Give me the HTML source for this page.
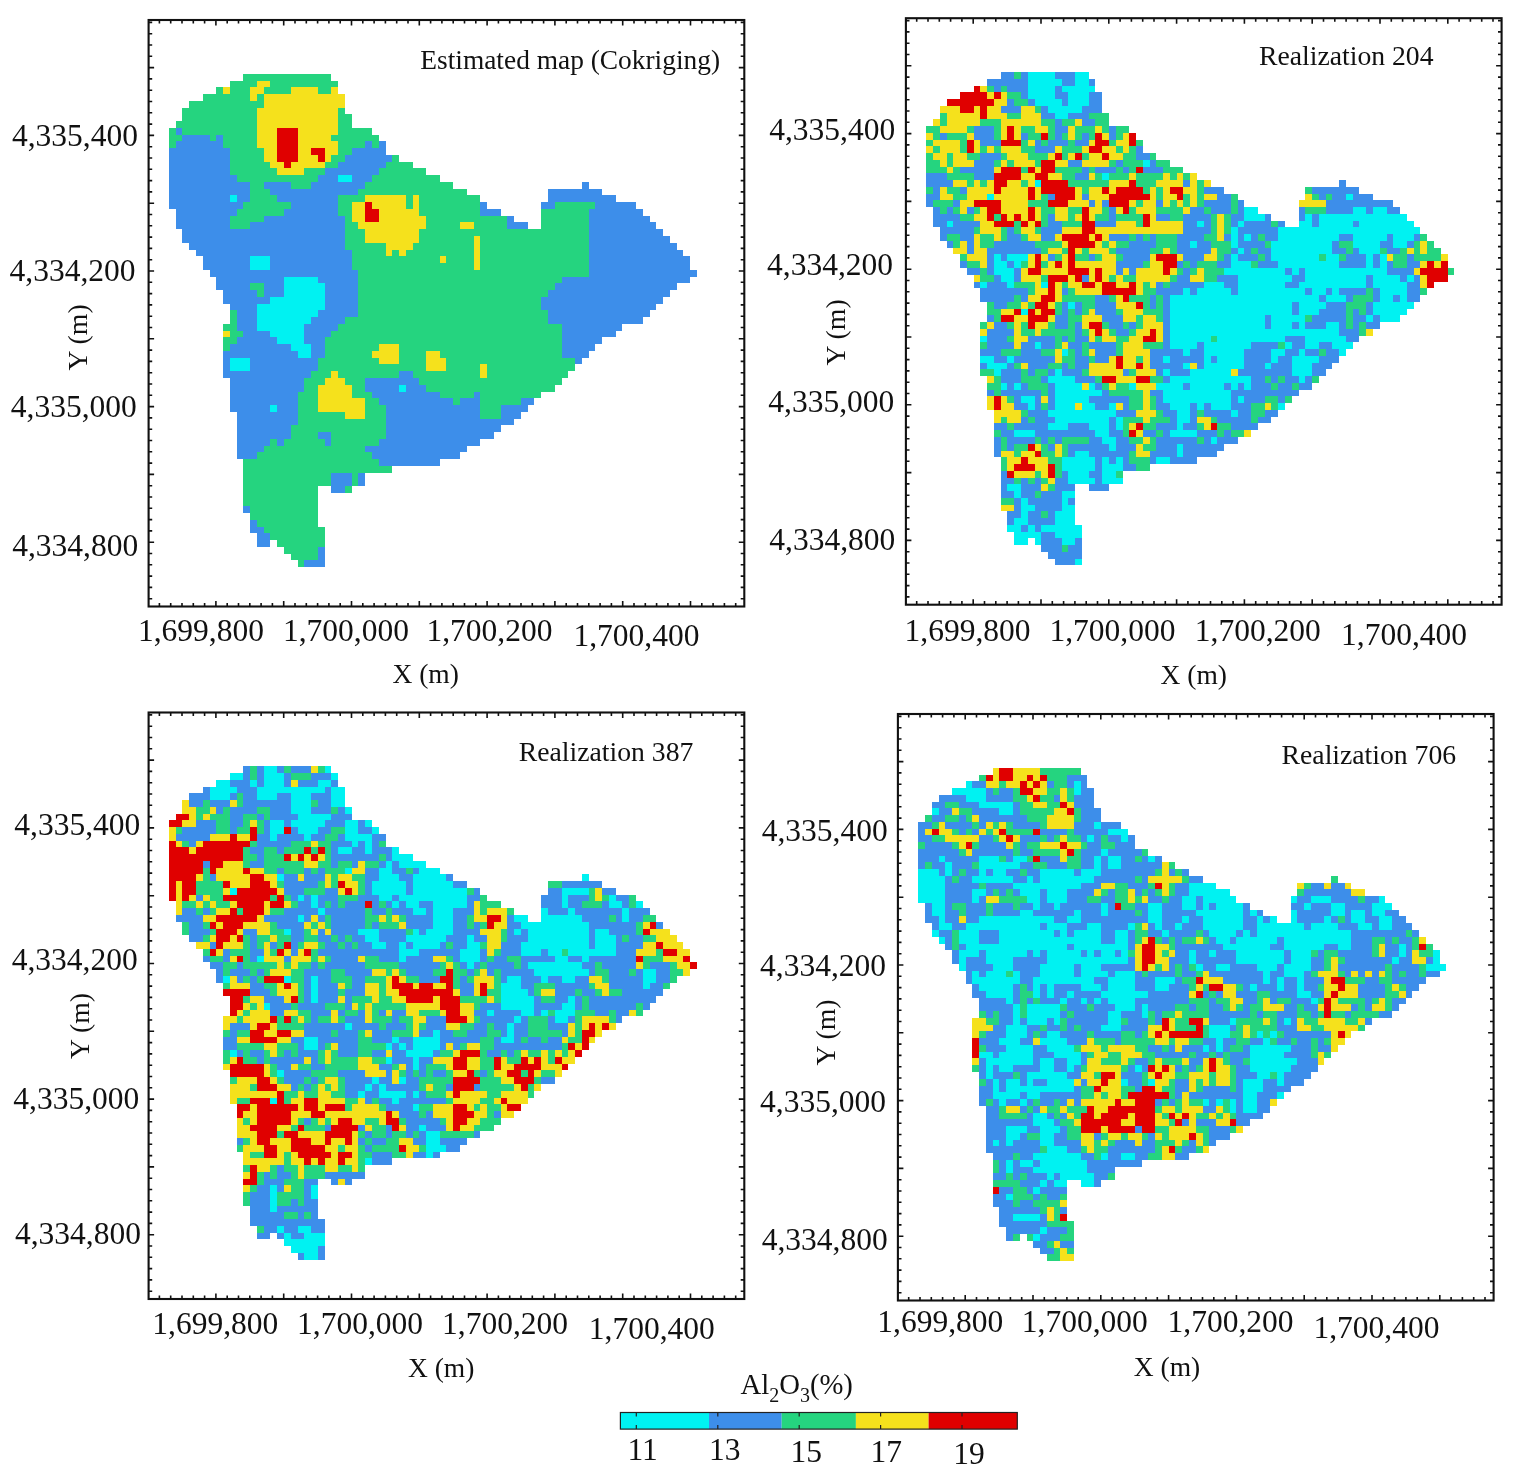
<!DOCTYPE html>
<html><head><meta charset="utf-8"><title>Al2O3 maps</title>
<style>html,body{margin:0;padding:0;background:#fff;}svg{display:block}</style></head>
<body><svg xmlns="http://www.w3.org/2000/svg" width="1513" height="1476" viewBox="0 0 1513 1476">
<rect width="1513" height="1476" fill="#fff"/>
<path shape-rendering="crispEdges" fill="#00f2f2" d="M338 175h14v7h-14zM230 195h7v7h-7zM250 256h20v7h-20zM250 263h20v7h-20zM284 277h34v6h-34zM284 283h41v7h-41zM284 290h41v7h-41zM270 297h55v7h-55zM257 304h68v6h-68zM257 310h61v7h-61zM257 317h54v7h-54zM257 324h47v7h-47zM270 331h34v6h-34zM277 337h27v7h-27zM291 344h20v7h-20zM298 351h13v7h-13zM230 358h20v6h-20zM230 364h20v7h-20zM399 385h7v7h-7zM270 405h7v7h-7z"/>
<path shape-rendering="crispEdges" fill="#3d8eea" d="M176 128h6v7h-6zM182 135h28v6h-28zM216 135h7v6h-7zM176 141h47v7h-47zM365 141h7v7h-7zM379 141h7v7h-7zM169 148h61v7h-61zM352 148h34v7h-34zM169 155h61v7h-61zM345 155h47v7h-47zM169 162h61v6h-61zM338 162h48v6h-48zM169 168h61v7h-61zM325 168h54v7h-54zM169 175h68v7h-68zM318 175h20v7h-20zM352 175h20v7h-20zM169 182h81v7h-81zM264 182h27v7h-27zM311 182h54v7h-54zM582 182h7v7h-7zM169 189h81v6h-81zM270 189h88v6h-88zM548 189h54v6h-54zM169 195h61v7h-61zM237 195h13v7h-13zM277 195h61v7h-61zM548 195h68v7h-68zM169 202h74v7h-74zM291 202h47v7h-47zM480 202h7v7h-7zM541 202h14v7h-14zM595 202h41v7h-41zM176 209h61v7h-61zM284 209h54v7h-54zM480 209h21v7h-21zM589 209h54v7h-54zM176 216h54v6h-54zM264 216h81v6h-81zM507 216h7v6h-7zM589 216h61v6h-61zM176 222h54v7h-54zM250 222h95v7h-95zM507 222h21v7h-21zM589 222h67v7h-67zM182 229h163v7h-163zM589 229h74v7h-74zM182 236h163v7h-163zM589 236h81v7h-81zM189 243h156v7h-156zM589 243h88v7h-88zM196 250h156v6h-156zM589 250h94v6h-94zM203 256h47v7h-47zM270 256h82v7h-82zM589 256h101v7h-101zM203 263h47v7h-47zM270 263h82v7h-82zM589 263h101v7h-101zM210 270h148v7h-148zM589 270h108v7h-108zM216 277h68v6h-68zM318 277h40v6h-40zM562 277h128v6h-128zM216 283h34v7h-34zM264 283h20v7h-20zM325 283h33v7h-33zM555 283h122v7h-122zM223 290h34v7h-34zM264 290h20v7h-20zM325 290h33v7h-33zM548 290h122v7h-122zM223 297h47v7h-47zM325 297h33v7h-33zM541 297h122v7h-122zM230 304h27v6h-27zM325 304h33v6h-33zM541 304h115v6h-115zM237 310h20v7h-20zM318 310h40v7h-40zM548 310h102v7h-102zM237 317h20v7h-20zM311 317h34v7h-34zM548 317h95v7h-95zM237 324h20v7h-20zM304 324h34v7h-34zM562 324h60v7h-60zM243 331h27v6h-27zM304 331h27v6h-27zM562 331h54v6h-54zM237 337h40v7h-40zM304 337h21v7h-21zM562 337h40v7h-40zM230 344h61v7h-61zM311 344h14v7h-14zM562 344h33v7h-33zM223 351h75v7h-75zM311 351h14v7h-14zM562 351h27v7h-27zM223 358h7v6h-7zM250 358h68v6h-68zM575 358h7v6h-7zM223 364h7v7h-7zM250 364h68v7h-68zM223 371h88v7h-88zM399 371h14v7h-14zM230 378h74v7h-74zM365 378h54v7h-54zM230 385h74v7h-74zM365 385h34v7h-34zM406 385h20v7h-20zM230 392h68v6h-68zM372 392h68v6h-68zM474 392h6v6h-6zM230 398h68v7h-68zM379 398h74v7h-74zM460 398h20v7h-20zM521 398h13v7h-13zM230 405h40v7h-40zM277 405h21v7h-21zM386 405h94v7h-94zM501 405h27v7h-27zM237 412h61v7h-61zM386 412h94v7h-94zM501 412h20v7h-20zM237 419h61v6h-61zM386 419h128v6h-128zM237 425h54v7h-54zM386 425h115v7h-115zM237 432h54v7h-54zM318 432h13v7h-13zM386 432h108v7h-108zM237 439h33v7h-33zM277 439h7v7h-7zM325 439h6v7h-6zM379 439h101v7h-101zM237 446h27v6h-27zM365 446h102v6h-102zM237 452h20v7h-20zM372 452h88v7h-88zM379 459h61v7h-61zM331 473h21v6h-21zM358 473h7v6h-7zM331 479h21v7h-21zM358 479h7v7h-7zM331 486h14v7h-14zM243 506h7v7h-7zM250 520h7v7h-7zM250 527h14v6h-14zM257 533h13v7h-13zM257 540h13v7h-13zM318 547h7v7h-7zM318 554h7v6h-7zM304 560h21v7h-21z"/>
<path shape-rendering="crispEdges" fill="#25d47f" d="M243 74h88v7h-88zM230 81h27v6h-27zM270 81h68v6h-68zM216 87h7v7h-7zM230 87h20v7h-20zM264 87h27v7h-27zM318 87h13v7h-13zM203 94h47v7h-47zM257 94h7v7h-7zM189 101h75v7h-75zM182 108h75v6h-75zM338 108h7v6h-7zM182 114h75v7h-75zM338 114h14v7h-14zM176 121h81v7h-81zM338 121h14v7h-14zM169 128h7v7h-7zM182 128h75v7h-75zM338 128h34v7h-34zM169 135h13v6h-13zM210 135h6v6h-6zM223 135h34v6h-34zM331 135h48v6h-48zM169 141h7v7h-7zM223 141h34v7h-34zM338 141h27v7h-27zM372 141h7v7h-7zM230 148h34v7h-34zM338 148h14v7h-14zM230 155h34v7h-34zM331 155h14v7h-14zM392 155h7v7h-7zM230 162h40v6h-40zM325 162h13v6h-13zM386 162h27v6h-27zM230 168h47v7h-47zM304 168h21v7h-21zM379 168h47v7h-47zM237 175h81v7h-81zM372 175h68v7h-68zM250 182h14v7h-14zM291 182h20v7h-20zM365 182h88v7h-88zM250 189h20v6h-20zM358 189h109v6h-109zM250 195h27v7h-27zM338 195h27v7h-27zM406 195h7v7h-7zM419 195h61v7h-61zM243 202h48v7h-48zM338 202h14v7h-14zM406 202h7v7h-7zM419 202h61v7h-61zM555 202h40v7h-40zM237 209h47v7h-47zM338 209h14v7h-14zM419 209h61v7h-61zM541 209h48v7h-48zM230 216h34v6h-34zM345 216h7v6h-7zM426 216h81v6h-81zM541 216h48v6h-48zM230 222h20v7h-20zM345 222h13v7h-13zM426 222h34v7h-34zM474 222h33v7h-33zM541 222h48v7h-48zM345 229h20v7h-20zM419 229h170v7h-170zM345 236h20v7h-20zM419 236h55v7h-55zM480 236h109v7h-109zM345 243h41v7h-41zM413 243h61v7h-61zM480 243h109v7h-109zM352 250h34v6h-34zM392 250h7v6h-7zM406 250h68v6h-68zM480 250h109v6h-109zM352 256h88v7h-88zM446 256h28v7h-28zM480 256h109v7h-109zM352 263h122v7h-122zM480 263h109v7h-109zM358 270h231v7h-231zM358 277h204v6h-204zM250 283h14v7h-14zM358 283h197v7h-197zM257 290h7v7h-7zM358 290h190v7h-190zM358 297h183v7h-183zM358 304h183v6h-183zM230 310h7v7h-7zM358 310h190v7h-190zM230 317h7v7h-7zM345 317h203v7h-203zM223 324h14v7h-14zM338 324h224v7h-224zM230 331h13v6h-13zM331 331h231v6h-231zM223 337h14v7h-14zM325 337h237v7h-237zM223 344h7v7h-7zM325 344h54v7h-54zM399 344h163v7h-163zM325 351h47v7h-47zM399 351h27v7h-27zM440 351h122v7h-122zM318 358h61v6h-61zM399 358h27v6h-27zM446 358h129v6h-129zM318 364h108v7h-108zM446 364h34v7h-34zM487 364h88v7h-88zM311 371h20v7h-20zM338 371h61v7h-61zM413 371h67v7h-67zM487 371h81v7h-81zM304 378h21v7h-21zM345 378h20v7h-20zM419 378h143v7h-143zM304 385h14v7h-14zM352 385h13v7h-13zM426 385h129v7h-129zM298 392h20v6h-20zM352 392h20v6h-20zM440 392h34v6h-34zM480 392h61v6h-61zM298 398h20v7h-20zM365 398h14v7h-14zM453 398h7v7h-7zM480 398h41v7h-41zM298 405h20v7h-20zM365 405h21v7h-21zM480 405h21v7h-21zM298 412h47v7h-47zM365 412h21v7h-21zM480 412h21v7h-21zM298 419h88v6h-88zM291 425h95v7h-95zM291 432h27v7h-27zM331 432h55v7h-55zM270 439h7v7h-7zM284 439h41v7h-41zM331 439h48v7h-48zM264 446h101v6h-101zM257 452h115v7h-115zM243 459h136v7h-136zM243 466h149v7h-149zM243 473h88v6h-88zM352 473h6v6h-6zM243 479h88v7h-88zM352 479h6v7h-6zM243 486h75v7h-75zM345 486h7v7h-7zM243 493h75v7h-75zM243 500h75v6h-75zM250 506h68v7h-68zM250 513h68v7h-68zM257 520h61v7h-61zM264 527h61v6h-61zM270 533h55v7h-55zM277 540h48v7h-48zM284 547h34v7h-34zM291 554h27v6h-27zM298 560h6v7h-6z"/>
<path shape-rendering="crispEdges" fill="#f5e11c" d="M257 81h13v6h-13zM223 87h7v7h-7zM250 87h14v7h-14zM291 87h27v7h-27zM331 87h7v7h-7zM250 94h7v7h-7zM264 94h81v7h-81zM264 101h81v7h-81zM257 108h81v6h-81zM257 114h81v7h-81zM257 121h81v7h-81zM257 128h20v7h-20zM298 128h40v7h-40zM257 135h20v6h-20zM298 135h33v6h-33zM257 141h20v7h-20zM298 141h40v7h-40zM264 148h13v7h-13zM298 148h13v7h-13zM325 148h13v7h-13zM264 155h13v7h-13zM298 155h20v7h-20zM325 155h6v7h-6zM270 162h14v6h-14zM291 162h34v6h-34zM277 168h27v7h-27zM365 195h41v7h-41zM413 195h6v7h-6zM352 202h13v7h-13zM372 202h34v7h-34zM413 202h6v7h-6zM352 209h13v7h-13zM379 209h40v7h-40zM352 216h13v6h-13zM379 216h47v6h-47zM358 222h68v7h-68zM460 222h14v7h-14zM365 229h54v7h-54zM365 236h54v7h-54zM474 236h6v7h-6zM386 243h27v7h-27zM474 243h6v7h-6zM386 250h6v6h-6zM399 250h7v6h-7zM474 250h6v6h-6zM440 256h6v7h-6zM474 256h6v7h-6zM474 263h6v7h-6zM223 331h7v6h-7zM379 344h20v7h-20zM372 351h27v7h-27zM426 351h14v7h-14zM379 358h20v6h-20zM426 358h20v6h-20zM426 364h20v7h-20zM480 364h7v7h-7zM331 371h7v7h-7zM480 371h7v7h-7zM325 378h20v7h-20zM318 385h34v7h-34zM318 392h34v6h-34zM318 398h47v7h-47zM318 405h47v7h-47zM345 412h20v7h-20z"/>
<path shape-rendering="crispEdges" fill="#e00000" d="M277 128h21v7h-21zM277 135h21v6h-21zM277 141h21v7h-21zM277 148h21v7h-21zM311 148h14v7h-14zM277 155h21v7h-21zM318 155h7v7h-7zM284 162h7v6h-7zM365 202h7v7h-7zM365 209h14v7h-14zM365 216h14v6h-14z"/>
<rect x="148.60" y="20.00" width="595.70" height="586.50" fill="none" stroke="#111" stroke-width="2.1"/>
<path d="M159.40 20.00v3.6M159.40 606.50v-3.6M170.70 20.00v3.6M170.70 606.50v-3.6M182.00 20.00v3.6M182.00 606.50v-3.6M193.30 20.00v3.6M193.30 606.50v-3.6M204.60 20.00v3.6M204.60 606.50v-3.6M215.90 20.00v5.5M215.90 606.50v-5.5M227.20 20.00v3.6M227.20 606.50v-3.6M238.50 20.00v3.6M238.50 606.50v-3.6M249.80 20.00v3.6M249.80 606.50v-3.6M261.10 20.00v3.6M261.10 606.50v-3.6M272.40 20.00v3.6M272.40 606.50v-3.6M283.70 20.00v5.5M283.70 606.50v-5.5M295.00 20.00v3.6M295.00 606.50v-3.6M306.30 20.00v3.6M306.30 606.50v-3.6M317.60 20.00v3.6M317.60 606.50v-3.6M328.90 20.00v3.6M328.90 606.50v-3.6M340.20 20.00v3.6M340.20 606.50v-3.6M351.50 20.00v5.5M351.50 606.50v-5.5M362.80 20.00v3.6M362.80 606.50v-3.6M374.10 20.00v3.6M374.10 606.50v-3.6M385.40 20.00v3.6M385.40 606.50v-3.6M396.70 20.00v3.6M396.70 606.50v-3.6M408.00 20.00v3.6M408.00 606.50v-3.6M419.30 20.00v5.5M419.30 606.50v-5.5M430.60 20.00v3.6M430.60 606.50v-3.6M441.90 20.00v3.6M441.90 606.50v-3.6M453.20 20.00v3.6M453.20 606.50v-3.6M464.50 20.00v3.6M464.50 606.50v-3.6M475.80 20.00v3.6M475.80 606.50v-3.6M487.10 20.00v5.5M487.10 606.50v-5.5M498.40 20.00v3.6M498.40 606.50v-3.6M509.70 20.00v3.6M509.70 606.50v-3.6M521.00 20.00v3.6M521.00 606.50v-3.6M532.30 20.00v3.6M532.30 606.50v-3.6M543.60 20.00v3.6M543.60 606.50v-3.6M554.90 20.00v5.5M554.90 606.50v-5.5M566.20 20.00v3.6M566.20 606.50v-3.6M577.50 20.00v3.6M577.50 606.50v-3.6M588.80 20.00v3.6M588.80 606.50v-3.6M600.10 20.00v3.6M600.10 606.50v-3.6M611.40 20.00v3.6M611.40 606.50v-3.6M622.70 20.00v5.5M622.70 606.50v-5.5M634.00 20.00v3.6M634.00 606.50v-3.6M645.30 20.00v3.6M645.30 606.50v-3.6M656.60 20.00v3.6M656.60 606.50v-3.6M667.90 20.00v3.6M667.90 606.50v-3.6M679.20 20.00v3.6M679.20 606.50v-3.6M690.50 20.00v5.5M690.50 606.50v-5.5M701.80 20.00v3.6M701.80 606.50v-3.6M713.10 20.00v3.6M713.10 606.50v-3.6M724.40 20.00v3.6M724.40 606.50v-3.6M735.70 20.00v3.6M735.70 606.50v-3.6M148.60 22.40h3.6M744.30 22.40h-3.6M148.60 33.70h3.6M744.30 33.70h-3.6M148.60 45.00h3.6M744.30 45.00h-3.6M148.60 56.30h3.6M744.30 56.30h-3.6M148.60 67.60h5.5M744.30 67.60h-5.5M148.60 78.90h3.6M744.30 78.90h-3.6M148.60 90.20h3.6M744.30 90.20h-3.6M148.60 101.50h3.6M744.30 101.50h-3.6M148.60 112.80h3.6M744.30 112.80h-3.6M148.60 124.10h3.6M744.30 124.10h-3.6M148.60 135.40h5.5M744.30 135.40h-5.5M148.60 146.70h3.6M744.30 146.70h-3.6M148.60 158.00h3.6M744.30 158.00h-3.6M148.60 169.30h3.6M744.30 169.30h-3.6M148.60 180.60h3.6M744.30 180.60h-3.6M148.60 191.90h3.6M744.30 191.90h-3.6M148.60 203.20h5.5M744.30 203.20h-5.5M148.60 214.50h3.6M744.30 214.50h-3.6M148.60 225.80h3.6M744.30 225.80h-3.6M148.60 237.10h3.6M744.30 237.10h-3.6M148.60 248.40h3.6M744.30 248.40h-3.6M148.60 259.70h3.6M744.30 259.70h-3.6M148.60 271.00h5.5M744.30 271.00h-5.5M148.60 282.30h3.6M744.30 282.30h-3.6M148.60 293.60h3.6M744.30 293.60h-3.6M148.60 304.90h3.6M744.30 304.90h-3.6M148.60 316.20h3.6M744.30 316.20h-3.6M148.60 327.50h3.6M744.30 327.50h-3.6M148.60 338.80h5.5M744.30 338.80h-5.5M148.60 350.10h3.6M744.30 350.10h-3.6M148.60 361.40h3.6M744.30 361.40h-3.6M148.60 372.70h3.6M744.30 372.70h-3.6M148.60 384.00h3.6M744.30 384.00h-3.6M148.60 395.30h3.6M744.30 395.30h-3.6M148.60 406.60h5.5M744.30 406.60h-5.5M148.60 417.90h3.6M744.30 417.90h-3.6M148.60 429.20h3.6M744.30 429.20h-3.6M148.60 440.50h3.6M744.30 440.50h-3.6M148.60 451.80h3.6M744.30 451.80h-3.6M148.60 463.10h3.6M744.30 463.10h-3.6M148.60 474.40h5.5M744.30 474.40h-5.5M148.60 485.70h3.6M744.30 485.70h-3.6M148.60 497.00h3.6M744.30 497.00h-3.6M148.60 508.30h3.6M744.30 508.30h-3.6M148.60 519.60h3.6M744.30 519.60h-3.6M148.60 530.90h3.6M744.30 530.90h-3.6M148.60 542.20h5.5M744.30 542.20h-5.5M148.60 553.50h3.6M744.30 553.50h-3.6M148.60 564.80h3.6M744.30 564.80h-3.6M148.60 576.10h3.6M744.30 576.10h-3.6M148.60 587.40h3.6M744.30 587.40h-3.6M148.60 598.70h3.6M744.30 598.70h-3.6" stroke="#111" stroke-width="1.6" fill="none"/>
<path shape-rendering="crispEdges" fill="#00f2f2" d="M1028 72h27v7h-27zM1075 72h14v7h-14zM1028 79h34v7h-34zM1075 79h14v7h-14zM1028 86h27v6h-27zM1062 86h33v6h-33zM1028 92h27v7h-27zM1068 92h21v7h-21zM1035 99h27v7h-27zM1068 99h21v7h-21zM1048 106h34v7h-34zM1055 113h13v6h-13zM1143 160h7v7h-7zM1102 173h7v7h-7zM1035 180h6v7h-6zM987 194h7v6h-7zM1346 194h7v6h-7zM1244 207h14v7h-14zM1353 207h13v7h-13zM1373 207h14v7h-14zM1244 214h21v7h-21zM1305 214h7v7h-7zM1319 214h88v7h-88zM947 221h6v6h-6zM1197 221h7v6h-7zM1238 221h6v6h-6zM1299 221h13v6h-13zM1319 221h34v6h-34zM1359 221h55v6h-55zM1231 227h7v7h-7zM1278 227h142v7h-142zM1231 234h7v7h-7zM1244 234h7v7h-7zM1278 234h61v7h-61zM1353 234h34v7h-34zM1393 234h21v7h-21zM1190 241h7v7h-7zM1231 241h7v7h-7zM1271 241h61v7h-61zM1353 241h27v7h-27zM1393 241h14v7h-14zM1238 248h6v6h-6zM1271 248h61v6h-61zM1359 248h21v6h-21zM994 254h7v7h-7zM1007 254h21v7h-21zM1231 254h7v7h-7zM1271 254h48v7h-48zM1326 254h13v7h-13zM1366 254h7v7h-7zM1380 254h7v7h-7zM994 261h13v7h-13zM1014 261h7v7h-7zM1231 261h20v7h-20zM1278 261h61v7h-61zM1366 261h7v7h-7zM1380 261h7v7h-7zM994 268h20v7h-20zM1224 268h61v7h-61zM1292 268h7v7h-7zM1305 268h82v7h-82zM1001 275h13v7h-13zM1238 275h54v7h-54zM1305 275h61v7h-61zM1373 275h27v7h-27zM1407 275h7v7h-7zM980 282h7v6h-7zM1007 282h7v6h-7zM1041 282h7v6h-7zM1204 282h20v6h-20zM1238 282h47v6h-47zM1299 282h67v6h-67zM1373 282h34v6h-34zM1183 288h7v7h-7zM1197 288h34v7h-34zM1238 288h67v7h-67zM1312 288h14v7h-14zM1332 288h7v7h-7zM1380 288h27v7h-27zM1170 295h149v7h-149zM1326 295h20v7h-20zM1380 295h13v7h-13zM1400 295h7v7h-7zM1068 302h7v7h-7zM1170 302h122v7h-122zM1299 302h27v7h-27zM1373 302h41v7h-41zM1021 309h7v6h-7zM1170 309h122v6h-122zM1299 309h20v6h-20zM1373 309h34v6h-34zM1170 315h95v7h-95zM1271 315h34v7h-34zM1366 315h7v7h-7zM1380 315h20v7h-20zM1170 322h95v7h-95zM1271 322h21v7h-21zM1299 322h6v7h-6zM1326 322h13v7h-13zM1170 329h169v7h-169zM980 336h7v6h-7zM1170 336h41v6h-41zM1217 336h68v6h-68zM1305 336h41v6h-41zM1035 342h6v7h-6zM1170 342h27v7h-27zM1204 342h47v7h-47zM1285 342h7v7h-7zM1305 342h14v7h-14zM1332 342h21v7h-21zM1062 349h6v7h-6zM1183 349h7v7h-7zM1204 349h40v7h-40zM1271 349h14v7h-14zM1299 349h6v7h-6zM1339 349h7v7h-7zM980 356h14v7h-14zM1007 356h7v7h-7zM1163 356h7v7h-7zM1204 356h7v7h-7zM1217 356h27v7h-27zM1271 356h7v7h-7zM1292 356h27v7h-27zM987 363h20v6h-20zM1183 363h7v6h-7zM1204 363h40v6h-40zM1265 363h6v6h-6zM1292 363h20v6h-20zM994 369h7v7h-7zM1055 369h7v7h-7zM1163 369h7v7h-7zM1190 369h41v7h-41zM1292 369h20v7h-20zM1048 376h27v7h-27zM1170 376h81v7h-81zM1299 376h6v7h-6zM1001 383h6v7h-6zM1014 383h7v7h-7zM1055 383h27v7h-27zM1089 383h6v7h-6zM1129 383h7v7h-7zM1156 383h27v7h-27zM1190 383h34v7h-34zM1231 383h7v7h-7zM1244 383h7v7h-7zM1055 390h47v6h-47zM1163 390h68v6h-68zM1021 396h14v7h-14zM1055 396h34v7h-34zM1163 396h68v7h-68zM1238 396h6v7h-6zM1028 403h7v7h-7zM1055 403h20v7h-20zM1082 403h13v7h-13zM1109 403h7v7h-7zM1170 403h20v7h-20zM1197 403h7v7h-7zM1211 403h20v7h-20zM1278 403h7v7h-7zM1048 410h68v7h-68zM1177 410h13v7h-13zM1231 410h7v7h-7zM1055 417h54v6h-54zM1116 417h7v6h-7zM1177 417h13v6h-13zM1048 423h20v7h-20zM1089 423h20v7h-20zM1116 423h7v7h-7zM1177 423h6v7h-6zM1014 430h21v7h-21zM1095 430h14v7h-14zM1170 430h27v7h-27zM1102 437h14v7h-14zM1211 437h6v7h-6zM1109 444h7v7h-7zM1177 444h6v7h-6zM1075 451h14v6h-14zM1177 451h6v6h-6zM1062 457h33v7h-33zM1102 457h7v7h-7zM1116 457h7v7h-7zM1156 457h14v7h-14zM1062 464h33v7h-33zM1102 464h21v7h-21zM1068 471h21v7h-21zM1102 471h14v7h-14zM1068 478h27v6h-27zM1102 478h21v6h-21zM1007 484h14v7h-14zM1014 491h7v7h-7zM1062 491h13v7h-13zM1021 498h7v7h-7zM1062 498h6v7h-6zM1021 505h14v6h-14zM1062 505h13v6h-13zM1021 511h7v7h-7zM1055 511h20v7h-20zM1014 518h14v7h-14zM1055 518h20v7h-20zM1007 525h14v7h-14zM1028 525h7v7h-7zM1041 525h41v7h-41zM1014 532h27v6h-27zM1055 532h27v6h-27zM1014 538h14v7h-14zM1035 538h6v7h-6zM1062 538h13v7h-13zM1075 559h7v6h-7z"/>
<path shape-rendering="crispEdges" fill="#3d8eea" d="M1001 72h13v7h-13zM1021 72h7v7h-7zM1055 72h20v7h-20zM987 79h41v7h-41zM1062 79h13v7h-13zM1089 79h6v7h-6zM994 86h7v6h-7zM1007 86h21v6h-21zM1055 86h7v6h-7zM1021 92h7v7h-7zM1055 92h13v7h-13zM1089 92h13v7h-13zM1007 99h7v7h-7zM1028 99h7v7h-7zM1062 99h6v7h-6zM1089 99h13v7h-13zM1001 106h20v7h-20zM1041 106h7v7h-7zM1082 106h20v7h-20zM1041 113h14v6h-14zM1068 113h21v6h-21zM1055 119h7v7h-7zM1082 119h13v7h-13zM974 126h20v7h-20zM1055 126h13v7h-13zM1109 126h7v7h-7zM940 133h7v7h-7zM974 133h20v7h-20zM1021 133h7v7h-7zM1055 133h7v7h-7zM1082 133h7v7h-7zM1109 133h7v7h-7zM980 140h21v6h-21zM1035 140h6v6h-6zM1048 140h20v6h-20zM1075 140h14v6h-14zM1035 146h20v7h-20zM1136 146h7v7h-7zM980 153h21v7h-21zM1136 153h14v7h-14zM974 160h20v7h-20zM1068 160h14v7h-14zM1116 160h7v7h-7zM1150 160h6v7h-6zM960 167h34v6h-34zM1082 167h7v6h-7zM1095 167h21v6h-21zM1123 167h6v6h-6zM1143 167h20v6h-20zM926 173h21v7h-21zM974 173h20v7h-20zM1075 173h14v7h-14zM926 180h27v7h-27zM1183 180h7v7h-7zM1339 180h7v7h-7zM933 187h7v7h-7zM960 187h7v7h-7zM1204 187h20v7h-20zM1312 187h47v7h-47zM926 194h14v6h-14zM1048 194h7v6h-7zM1082 194h7v6h-7zM1217 194h14v6h-14zM1319 194h7v6h-7zM1332 194h14v6h-14zM1353 194h20v6h-20zM926 200h7v7h-7zM953 200h7v7h-7zM1089 200h6v7h-6zM1102 200h7v7h-7zM1156 200h7v7h-7zM1204 200h27v7h-27zM1238 200h6v7h-6zM1326 200h67v7h-67zM933 207h7v7h-7zM947 207h6v7h-6zM967 207h7v7h-7zM1109 207h7v7h-7zM1190 207h14v7h-14zM1211 207h20v7h-20zM1238 207h6v7h-6zM1299 207h6v7h-6zM1326 207h27v7h-27zM1366 207h7v7h-7zM1387 207h13v7h-13zM933 214h27v7h-27zM1048 214h7v7h-7zM1109 214h7v7h-7zM1156 214h14v7h-14zM1183 214h28v7h-28zM1231 214h13v7h-13zM1265 214h6v7h-6zM1299 214h6v7h-6zM1312 214h7v7h-7zM933 221h14v6h-14zM953 221h27v6h-27zM1048 221h14v6h-14zM1095 221h21v6h-21zM1183 221h14v6h-14zM1204 221h7v6h-7zM1231 221h7v6h-7zM1244 221h27v6h-27zM1278 221h7v6h-7zM1312 221h7v6h-7zM1353 221h6v6h-6zM940 227h34v7h-34zM1007 227h7v7h-7zM1041 227h21v7h-21zM1183 227h28v7h-28zM1238 227h40v7h-40zM940 234h7v7h-7zM960 234h14v7h-14zM1007 234h14v7h-14zM1041 234h14v7h-14zM1109 234h20v7h-20zM1136 234h7v7h-7zM1150 234h6v7h-6zM1177 234h27v7h-27zM1224 234h7v7h-7zM1238 234h6v7h-6zM1251 234h7v7h-7zM1265 234h13v7h-13zM1339 234h14v7h-14zM1387 234h6v7h-6zM1414 234h6v7h-6zM947 241h6v7h-6zM967 241h7v7h-7zM994 241h41v7h-41zM1129 241h27v7h-27zM1177 241h13v7h-13zM1197 241h14v7h-14zM1238 241h27v7h-27zM1332 241h7v7h-7zM1380 241h13v7h-13zM1407 241h7v7h-7zM967 248h7v6h-7zM987 248h54v6h-54zM1116 248h34v6h-34zM1177 248h34v6h-34zM1231 248h7v6h-7zM1244 248h7v6h-7zM1258 248h13v6h-13zM1332 248h14v6h-14zM1353 248h6v6h-6zM1387 248h13v6h-13zM987 254h7v7h-7zM1001 254h6v7h-6zM1048 254h7v7h-7zM1089 254h6v7h-6zM1123 254h27v7h-27zM1183 254h21v7h-21zM1224 254h7v7h-7zM1238 254h20v7h-20zM1265 254h6v7h-6zM1346 254h20v7h-20zM1373 254h7v7h-7zM1407 254h7v7h-7zM960 261h7v7h-7zM987 261h7v7h-7zM1007 261h7v7h-7zM1116 261h27v7h-27zM1177 261h6v7h-6zM1190 261h7v7h-7zM1217 261h14v7h-14zM1258 261h20v7h-20zM1339 261h27v7h-27zM1373 261h7v7h-7zM1387 261h6v7h-6zM1407 261h13v7h-13zM967 268h13v7h-13zM987 268h7v7h-7zM1014 268h7v7h-7zM1116 268h7v7h-7zM1129 268h7v7h-7zM1183 268h7v7h-7zM1285 268h7v7h-7zM1299 268h6v7h-6zM1387 268h27v7h-27zM994 275h7v7h-7zM1014 275h7v7h-7zM1082 275h7v7h-7zM1177 275h13v7h-13zM1217 275h21v7h-21zM1292 275h13v7h-13zM1366 275h7v7h-7zM1400 275h7v7h-7zM1414 275h6v7h-6zM974 282h6v6h-6zM987 282h20v6h-20zM1156 282h7v6h-7zM1170 282h34v6h-34zM1224 282h14v6h-14zM1285 282h14v6h-14zM1366 282h7v6h-7zM1407 282h13v6h-13zM980 288h48v7h-48zM1062 288h6v7h-6zM1156 288h27v7h-27zM1190 288h7v7h-7zM1231 288h7v7h-7zM1305 288h7v7h-7zM1326 288h6v7h-6zM1339 288h27v7h-27zM1373 288h7v7h-7zM1407 288h13v7h-13zM980 295h34v7h-34zM1021 295h7v7h-7zM1095 295h14v7h-14zM1150 295h6v7h-6zM1163 295h7v7h-7zM1319 295h7v7h-7zM1346 295h7v7h-7zM1373 295h7v7h-7zM1393 295h7v7h-7zM1407 295h13v7h-13zM994 302h13v7h-13zM1062 302h6v7h-6zM1075 302h7v7h-7zM1095 302h21v7h-21zM1150 302h6v7h-6zM1163 302h7v7h-7zM1292 302h7v7h-7zM1326 302h20v7h-20zM1366 302h7v7h-7zM1062 309h6v6h-6zM1075 309h7v6h-7zM1095 309h21v6h-21zM1163 309h7v6h-7zM1292 309h7v6h-7zM1319 309h27v6h-27zM1353 309h6v6h-6zM1366 309h7v6h-7zM987 315h7v7h-7zM1055 315h13v7h-13zM1102 315h21v7h-21zM1163 315h7v7h-7zM1265 315h6v7h-6zM1312 315h34v7h-34zM1353 315h13v7h-13zM1373 315h7v7h-7zM994 322h13v7h-13zM1055 322h13v7h-13zM1075 322h7v7h-7zM1109 322h14v7h-14zM1129 322h7v7h-7zM1163 322h7v7h-7zM1265 322h6v7h-6zM1292 322h7v7h-7zM1305 322h21v7h-21zM1339 322h7v7h-7zM1353 322h6v7h-6zM1366 322h14v7h-14zM987 329h27v7h-27zM1075 329h7v7h-7zM1116 329h13v7h-13zM1163 329h7v7h-7zM1339 329h20v7h-20zM987 336h20v6h-20zM1028 336h27v6h-27zM1062 336h6v6h-6zM1075 336h14v6h-14zM1163 336h7v6h-7zM1285 336h20v6h-20zM1346 336h13v6h-13zM987 342h27v7h-27zM1021 342h14v7h-14zM1041 342h14v7h-14zM1068 342h14v7h-14zM1089 342h27v7h-27zM1163 342h7v7h-7zM1197 342h7v7h-7zM1251 342h27v7h-27zM1292 342h13v7h-13zM1319 342h13v7h-13zM980 349h21v7h-21zM1021 349h20v7h-20zM1075 349h7v7h-7zM1095 349h21v7h-21zM1150 349h33v7h-33zM1190 349h14v7h-14zM1244 349h27v7h-27zM1285 349h14v7h-14zM1305 349h14v7h-14zM1326 349h13v7h-13zM994 356h13v7h-13zM1014 356h41v7h-41zM1075 356h14v7h-14zM1095 356h14v7h-14zM1150 356h13v7h-13zM1170 356h34v7h-34zM1211 356h6v7h-6zM1244 356h27v7h-27zM1278 356h14v7h-14zM1319 356h20v7h-20zM980 363h7v6h-7zM1007 363h7v6h-7zM1028 363h20v6h-20zM1062 363h6v6h-6zM1075 363h14v6h-14zM1150 363h33v6h-33zM1197 363h7v6h-7zM1244 363h21v6h-21zM1271 363h21v6h-21zM1312 363h20v6h-20zM1001 369h20v7h-20zM1028 369h7v7h-7zM1048 369h7v7h-7zM1062 369h20v7h-20zM1123 369h6v7h-6zM1156 369h7v7h-7zM1170 369h20v7h-20zM1238 369h54v7h-54zM1312 369h14v7h-14zM1001 376h20v7h-20zM1041 376h7v7h-7zM1075 376h20v7h-20zM1163 376h7v7h-7zM1251 376h14v7h-14zM1271 376h7v7h-7zM1285 376h14v7h-14zM1305 376h7v7h-7zM1007 383h7v7h-7zM1021 383h7v7h-7zM1048 383h7v7h-7zM1095 383h7v7h-7zM1183 383h7v7h-7zM1224 383h7v7h-7zM1238 383h6v7h-6zM1251 383h20v7h-20zM1278 383h14v7h-14zM1299 383h13v7h-13zM987 390h7v6h-7zM1001 390h40v6h-40zM1048 390h7v6h-7zM1102 390h7v6h-7zM1150 390h13v6h-13zM1231 390h68v6h-68zM1014 396h7v7h-7zM1035 396h6v7h-6zM1048 396h7v7h-7zM1089 396h40v7h-40zM1156 396h7v7h-7zM1231 396h7v7h-7zM1244 396h21v7h-21zM1278 396h7v7h-7zM1014 403h14v7h-14zM1035 403h6v7h-6zM1048 403h7v7h-7zM1095 403h14v7h-14zM1123 403h6v7h-6zM1156 403h14v7h-14zM1190 403h7v7h-7zM1204 403h7v7h-7zM1231 403h20v7h-20zM1028 410h20v7h-20zM1116 410h20v7h-20zM1163 410h14v7h-14zM1190 410h7v7h-7zM1204 410h27v7h-27zM1238 410h13v7h-13zM1265 410h13v7h-13zM1021 417h7v6h-7zM1035 417h20v6h-20zM1109 417h7v6h-7zM1170 417h7v6h-7zM1190 417h7v6h-7zM1217 417h34v6h-34zM1258 417h13v6h-13zM994 423h13v7h-13zM1014 423h34v7h-34zM1068 423h21v7h-21zM1109 423h7v7h-7zM1156 423h21v7h-21zM1183 423h14v7h-14zM1231 423h27v7h-27zM1001 430h13v7h-13zM1035 430h60v7h-60zM1109 430h14v7h-14zM1143 430h13v7h-13zM1163 430h7v7h-7zM1197 430h20v7h-20zM1224 430h7v7h-7zM994 437h7v7h-7zM1007 437h28v7h-28zM1041 437h7v7h-7zM1055 437h7v7h-7zM1089 437h13v7h-13zM1116 437h13v7h-13zM1156 437h41v7h-41zM1204 437h7v7h-7zM1217 437h21v7h-21zM994 444h7v7h-7zM1007 444h7v7h-7zM1048 444h7v7h-7zM1068 444h41v7h-41zM1116 444h20v7h-20zM1156 444h21v7h-21zM1183 444h41v7h-41zM994 451h7v6h-7zM1068 451h7v6h-7zM1089 451h40v6h-40zM1150 451h27v6h-27zM1183 451h34v6h-34zM1095 457h7v7h-7zM1109 457h7v7h-7zM1123 457h6v7h-6zM1150 457h6v7h-6zM1170 457h27v7h-27zM1095 464h7v7h-7zM1123 464h13v7h-13zM1001 471h6v7h-6zM1062 471h6v7h-6zM1089 471h13v7h-13zM1001 478h13v6h-13zM1021 478h7v6h-7zM1035 478h6v6h-6zM1055 478h13v6h-13zM1095 478h7v6h-7zM1001 484h6v7h-6zM1021 484h20v7h-20zM1055 484h20v7h-20zM1089 484h20v7h-20zM1001 491h13v7h-13zM1021 491h14v7h-14zM1041 491h21v7h-21zM1014 498h7v7h-7zM1028 498h34v7h-34zM1068 498h7v7h-7zM1014 505h7v6h-7zM1035 505h27v6h-27zM1007 511h14v7h-14zM1028 511h13v7h-13zM1048 511h7v7h-7zM1007 518h7v7h-7zM1028 518h27v7h-27zM1021 525h7v7h-7zM1035 525h6v7h-6zM1041 532h14v6h-14zM1041 538h21v7h-21zM1075 538h7v7h-7zM1041 545h21v7h-21zM1068 545h14v7h-14zM1048 552h34v7h-34zM1055 559h20v6h-20z"/>
<path shape-rendering="crispEdges" fill="#25d47f" d="M1014 72h7v7h-7zM987 86h7v6h-7zM1001 86h6v6h-6zM1007 92h14v7h-14zM1014 99h14v7h-14zM1035 106h6v7h-6zM940 113h7v6h-7zM1007 113h14v6h-14zM1089 113h20v6h-20zM940 119h7v7h-7zM980 119h21v7h-21zM1041 119h14v7h-14zM1062 119h13v7h-13zM1095 119h14v7h-14zM926 126h14v7h-14zM967 126h7v7h-7zM994 126h7v7h-7zM1021 126h14v7h-14zM1048 126h7v7h-7zM1075 126h20v7h-20zM1102 126h7v7h-7zM1116 126h13v7h-13zM933 133h7v7h-7zM947 133h20v7h-20zM994 133h7v7h-7zM1028 133h13v7h-13zM1048 133h7v7h-7zM1062 133h6v7h-6zM1075 133h7v7h-7zM1089 133h6v7h-6zM1116 133h7v7h-7zM926 140h7v6h-7zM960 140h7v6h-7zM1021 140h7v6h-7zM1041 140h7v6h-7zM1068 140h7v6h-7zM1109 140h7v6h-7zM1136 140h7v6h-7zM933 146h7v7h-7zM960 146h7v7h-7zM980 146h7v7h-7zM994 146h7v7h-7zM1021 146h14v7h-14zM1062 146h20v7h-20zM1116 146h7v7h-7zM1129 146h7v7h-7zM926 153h7v7h-7zM947 153h6v7h-6zM967 153h13v7h-13zM1001 153h6v7h-6zM1028 153h20v7h-20zM1062 153h6v7h-6zM1082 153h7v7h-7zM1123 153h13v7h-13zM1150 153h6v7h-6zM926 160h14v7h-14zM947 160h6v7h-6zM994 160h7v7h-7zM1007 160h7v7h-7zM1035 160h6v7h-6zM1109 160h7v7h-7zM1123 160h20v7h-20zM1156 160h14v7h-14zM926 167h21v6h-21zM953 167h7v6h-7zM1021 167h7v6h-7zM1055 167h27v6h-27zM1089 167h6v6h-6zM1116 167h7v6h-7zM1129 167h7v6h-7zM1163 167h20v6h-20zM947 173h27v7h-27zM1062 173h13v7h-13zM1095 173h7v7h-7zM1109 173h20v7h-20zM1136 173h27v7h-27zM1170 173h7v7h-7zM1183 173h7v7h-7zM967 180h7v7h-7zM980 180h7v7h-7zM1021 180h7v7h-7zM1068 180h41v7h-41zM1136 180h20v7h-20zM1197 180h7v7h-7zM926 187h7v7h-7zM947 187h13v7h-13zM1082 187h7v7h-7zM1143 187h7v7h-7zM1156 187h7v7h-7zM1197 187h7v7h-7zM1305 187h7v7h-7zM953 194h14v6h-14zM1041 194h7v6h-7zM1156 194h7v6h-7zM1183 194h7v6h-7zM1197 194h7v6h-7zM1231 194h7v6h-7zM1312 194h7v6h-7zM1326 194h6v6h-6zM933 200h20v7h-20zM1028 200h20v7h-20zM1136 200h7v7h-7zM1170 200h7v7h-7zM1183 200h7v7h-7zM1197 200h7v7h-7zM1231 200h7v7h-7zM940 207h7v7h-7zM953 207h7v7h-7zM974 207h6v7h-6zM1041 207h14v7h-14zM1068 207h14v7h-14zM1102 207h7v7h-7zM1129 207h7v7h-7zM1156 207h27v7h-27zM1204 207h7v7h-7zM1231 207h7v7h-7zM1305 207h21v7h-21zM960 214h14v7h-14zM994 214h7v7h-7zM1041 214h7v7h-7zM1068 214h7v7h-7zM1095 214h14v7h-14zM1116 214h27v7h-27zM1170 214h13v7h-13zM1211 214h6v7h-6zM1224 214h7v7h-7zM1014 221h7v6h-7zM1041 221h7v6h-7zM1062 221h20v6h-20zM1136 221h7v6h-7zM1211 221h6v6h-6zM1224 221h7v6h-7zM1271 221h7v6h-7zM974 227h6v7h-6zM1001 227h6v7h-6zM1014 227h7v7h-7zM1035 227h6v7h-6zM1211 227h6v7h-6zM1224 227h7v7h-7zM947 234h13v7h-13zM980 234h14v7h-14zM1001 234h6v7h-6zM1021 234h7v7h-7zM1129 234h7v7h-7zM1143 234h7v7h-7zM1156 234h21v7h-21zM1204 234h13v7h-13zM1258 234h7v7h-7zM1420 234h7v7h-7zM953 241h7v7h-7zM980 241h14v7h-14zM1035 241h27v7h-27zM1102 241h7v7h-7zM1116 241h13v7h-13zM1156 241h21v7h-21zM1211 241h20v7h-20zM1265 241h6v7h-6zM1339 241h14v7h-14zM1414 241h6v7h-6zM1427 241h7v7h-7zM1041 248h7v6h-7zM1062 248h6v6h-6zM1082 248h7v6h-7zM1109 248h7v6h-7zM1150 248h13v6h-13zM1170 248h7v6h-7zM1217 248h14v6h-14zM1251 248h7v6h-7zM1346 248h7v6h-7zM1380 248h7v6h-7zM1400 248h7v6h-7zM1414 248h6v6h-6zM1427 248h14v6h-14zM960 254h7v7h-7zM1055 254h7v7h-7zM1075 254h14v7h-14zM1095 254h7v7h-7zM1116 254h7v7h-7zM1217 254h7v7h-7zM1258 254h7v7h-7zM1319 254h7v7h-7zM1339 254h7v7h-7zM1393 254h14v7h-14zM1414 254h27v7h-27zM967 261h13v7h-13zM1021 261h7v7h-7zM1041 261h7v7h-7zM1143 261h7v7h-7zM1183 261h7v7h-7zM1197 261h20v7h-20zM1251 261h7v7h-7zM1393 261h14v7h-14zM980 268h7v7h-7zM1177 268h6v7h-6zM1190 268h7v7h-7zM1204 268h20v7h-20zM1448 268h6v7h-6zM980 275h14v7h-14zM1041 275h7v7h-7zM1109 275h7v7h-7zM1123 275h13v7h-13zM1170 275h7v7h-7zM1204 275h13v7h-13zM1014 282h21v6h-21zM1062 282h6v6h-6zM1143 282h7v6h-7zM1163 282h7v6h-7zM1028 288h7v7h-7zM1068 288h7v7h-7zM1143 288h13v7h-13zM1366 288h7v7h-7zM1420 288h7v7h-7zM1014 295h7v7h-7zM1062 295h33v7h-33zM1109 295h7v7h-7zM1129 295h21v7h-21zM1156 295h7v7h-7zM1353 295h20v7h-20zM987 302h7v7h-7zM1007 302h14v7h-14zM1028 302h7v7h-7zM1055 302h7v7h-7zM1082 302h13v7h-13zM1143 302h7v7h-7zM1156 302h7v7h-7zM1346 302h20v7h-20zM987 309h14v6h-14zM1055 309h7v6h-7zM1068 309h7v6h-7zM1082 309h7v6h-7zM1116 309h7v6h-7zM1143 309h20v6h-20zM1346 309h7v6h-7zM1359 309h7v6h-7zM994 315h7v7h-7zM1068 315h14v7h-14zM1136 315h7v7h-7zM1156 315h7v7h-7zM1305 315h7v7h-7zM1346 315h7v7h-7zM980 322h7v7h-7zM1007 322h7v7h-7zM1021 322h7v7h-7zM1048 322h7v7h-7zM1068 322h7v7h-7zM1102 322h7v7h-7zM1123 322h6v7h-6zM1136 322h7v7h-7zM1346 322h7v7h-7zM1359 322h7v7h-7zM1021 329h14v7h-14zM1041 329h34v7h-34zM1082 329h7v7h-7zM1109 329h7v7h-7zM1129 329h7v7h-7zM1359 329h7v7h-7zM1007 336h7v6h-7zM1055 336h7v6h-7zM1068 336h7v6h-7zM1095 336h7v6h-7zM1116 336h13v6h-13zM1211 336h6v6h-6zM980 342h7v7h-7zM1055 342h7v7h-7zM1082 342h7v7h-7zM1116 342h7v7h-7zM1143 342h20v7h-20zM1278 342h7v7h-7zM1001 349h20v7h-20zM1041 349h14v7h-14zM1068 349h7v7h-7zM1082 349h7v7h-7zM1116 349h7v7h-7zM1319 349h7v7h-7zM1062 356h13v7h-13zM1089 356h6v7h-6zM1136 356h7v7h-7zM1014 363h7v6h-7zM1048 363h14v6h-14zM1068 363h7v6h-7zM980 369h14v7h-14zM1021 369h7v7h-7zM1035 369h13v7h-13zM1082 369h7v7h-7zM1129 369h7v7h-7zM994 376h7v7h-7zM1021 376h20v7h-20zM1095 376h7v7h-7zM1150 376h13v7h-13zM1265 376h6v7h-6zM1278 376h7v7h-7zM1312 376h7v7h-7zM987 383h14v7h-14zM1028 383h20v7h-20zM1102 383h7v7h-7zM1116 383h13v7h-13zM1271 383h7v7h-7zM1292 383h7v7h-7zM994 390h7v6h-7zM1041 390h7v6h-7zM1109 390h34v6h-34zM1007 396h7v7h-7zM1129 396h14v7h-14zM1150 396h6v7h-6zM1265 396h13v7h-13zM1285 396h7v7h-7zM1041 403h7v7h-7zM1129 403h14v7h-14zM1150 403h6v7h-6zM1251 403h14v7h-14zM1271 403h7v7h-7zM1021 410h7v7h-7zM1156 410h7v7h-7zM1197 410h7v7h-7zM1251 410h14v7h-14zM1001 417h6v6h-6zM1028 417h7v6h-7zM1123 417h20v6h-20zM1150 417h20v6h-20zM1211 417h6v6h-6zM1251 417h7v6h-7zM1007 423h7v7h-7zM1123 423h6v7h-6zM1143 423h13v7h-13zM1197 423h7v7h-7zM1217 423h14v7h-14zM994 430h7v7h-7zM1123 430h6v7h-6zM1156 430h7v7h-7zM1217 430h7v7h-7zM1231 430h13v7h-13zM1001 437h6v7h-6zM1035 437h6v7h-6zM1048 437h7v7h-7zM1062 437h27v7h-27zM1129 437h14v7h-14zM1150 437h6v7h-6zM1197 437h7v7h-7zM1001 444h6v7h-6zM1014 444h14v7h-14zM1041 444h7v7h-7zM1062 444h6v7h-6zM1143 444h13v7h-13zM1014 451h7v6h-7zM1041 451h14v6h-14zM1062 451h6v6h-6zM1129 451h7v6h-7zM1001 457h6v7h-6zM1048 457h14v7h-14zM1129 457h21v7h-21zM1001 464h6v7h-6zM1055 464h7v7h-7zM1136 464h14v7h-14zM1035 471h6v7h-6zM1055 471h7v7h-7zM1116 471h7v7h-7zM1014 478h7v6h-7zM1028 478h7v6h-7zM1041 478h7v6h-7zM1048 484h7v7h-7zM1035 491h6v7h-6zM1001 498h13v7h-13zM1041 511h7v7h-7zM1062 545h6v7h-6z"/>
<path shape-rendering="crispEdges" fill="#f5e11c" d="M980 86h7v6h-7zM987 92h7v7h-7zM1001 92h6v7h-6zM994 99h13v7h-13zM940 106h20v7h-20zM974 106h6v7h-6zM987 106h14v7h-14zM1021 106h14v7h-14zM947 113h33v6h-33zM987 113h20v6h-20zM1021 113h20v6h-20zM933 119h7v7h-7zM947 119h33v7h-33zM1001 119h40v7h-40zM1075 119h7v7h-7zM940 126h27v7h-27zM1001 126h6v7h-6zM1014 126h7v7h-7zM1035 126h13v7h-13zM1068 126h7v7h-7zM1095 126h7v7h-7zM926 133h7v7h-7zM967 133h7v7h-7zM1001 133h6v7h-6zM1014 133h7v7h-7zM1068 133h7v7h-7zM1102 133h7v7h-7zM1123 133h6v7h-6zM933 140h27v6h-27zM974 140h6v6h-6zM1028 140h7v6h-7zM1089 140h6v6h-6zM1116 140h13v6h-13zM926 146h7v7h-7zM940 146h20v7h-20zM974 146h6v7h-6zM987 146h7v7h-7zM1001 146h20v7h-20zM1055 146h7v7h-7zM1082 146h7v7h-7zM1102 146h14v7h-14zM1123 146h6v7h-6zM933 153h14v7h-14zM953 153h14v7h-14zM1007 153h21v7h-21zM1048 153h7v7h-7zM1068 153h7v7h-7zM1089 153h13v7h-13zM1109 153h14v7h-14zM940 160h7v7h-7zM953 160h21v7h-21zM1001 160h6v7h-6zM1014 160h21v7h-21zM1055 160h13v7h-13zM1082 160h27v7h-27zM947 167h6v6h-6zM994 167h7v6h-7zM1035 167h6v6h-6zM1021 173h14v7h-14zM1048 173h14v7h-14zM1089 173h6v7h-6zM1129 173h7v7h-7zM1163 173h7v7h-7zM1177 173h6v7h-6zM1190 173h7v7h-7zM953 180h14v7h-14zM974 180h6v7h-6zM987 180h7v7h-7zM1007 180h14v7h-14zM1028 180h7v7h-7zM1109 180h20v7h-20zM1156 180h27v7h-27zM1190 180h7v7h-7zM1204 180h7v7h-7zM940 187h7v7h-7zM967 187h27v7h-27zM1001 187h27v7h-27zM1035 187h6v7h-6zM1075 187h7v7h-7zM1089 187h13v7h-13zM1109 187h7v7h-7zM1150 187h6v7h-6zM1163 187h7v7h-7zM1183 187h14v7h-14zM940 194h13v6h-13zM967 194h20v6h-20zM994 194h34v6h-34zM1035 194h6v6h-6zM1075 194h7v6h-7zM1089 194h20v6h-20zM1150 194h6v6h-6zM1163 194h14v6h-14zM1190 194h7v6h-7zM1204 194h13v6h-13zM1305 194h7v6h-7zM960 200h14v7h-14zM1001 200h27v7h-27zM1068 200h21v7h-21zM1095 200h7v7h-7zM1129 200h7v7h-7zM1143 200h13v7h-13zM1163 200h7v7h-7zM1177 200h6v7h-6zM1190 200h7v7h-7zM1299 200h27v7h-27zM960 207h7v7h-7zM980 207h7v7h-7zM1001 207h27v7h-27zM1035 207h6v7h-6zM1055 207h13v7h-13zM1089 207h13v7h-13zM1116 207h7v7h-7zM1136 207h20v7h-20zM1183 207h7v7h-7zM974 214h13v7h-13zM1007 214h7v7h-7zM1021 214h7v7h-7zM1035 214h6v7h-6zM1055 214h13v7h-13zM1075 214h7v7h-7zM1089 214h6v7h-6zM1150 214h6v7h-6zM1217 214h7v7h-7zM980 221h14v6h-14zM1028 221h7v6h-7zM1116 221h20v6h-20zM1150 221h33v6h-33zM1217 221h7v6h-7zM980 227h21v7h-21zM1021 227h14v7h-14zM1062 227h20v7h-20zM1095 227h88v7h-88zM1217 227h7v7h-7zM974 234h6v7h-6zM994 234h7v7h-7zM1028 234h13v7h-13zM1055 234h7v7h-7zM1089 234h6v7h-6zM1102 234h7v7h-7zM1217 234h7v7h-7zM960 241h7v7h-7zM974 241h6v7h-6zM1062 241h6v7h-6zM1095 241h7v7h-7zM1109 241h7v7h-7zM1420 241h7v7h-7zM953 248h14v6h-14zM974 248h13v6h-13zM1048 248h14v6h-14zM1075 248h7v6h-7zM1089 248h20v6h-20zM1163 248h7v6h-7zM1211 248h6v6h-6zM1407 248h7v6h-7zM1420 248h7v6h-7zM967 254h20v7h-20zM1028 254h7v7h-7zM1041 254h7v7h-7zM1062 254h6v7h-6zM1102 254h14v7h-14zM1150 254h6v7h-6zM1177 254h6v7h-6zM1204 254h13v7h-13zM1387 254h6v7h-6zM1441 254h7v7h-7zM980 261h7v7h-7zM1028 261h7v7h-7zM1048 261h7v7h-7zM1062 261h6v7h-6zM1075 261h41v7h-41zM1150 261h13v7h-13zM1420 261h7v7h-7zM1434 261h7v7h-7zM1021 268h7v7h-7zM1041 268h27v7h-27zM1089 268h6v7h-6zM1102 268h14v7h-14zM1123 268h6v7h-6zM1136 268h27v7h-27zM1170 268h7v7h-7zM1197 268h7v7h-7zM1414 268h6v7h-6zM974 275h6v7h-6zM1021 275h20v7h-20zM1068 275h7v7h-7zM1089 275h6v7h-6zM1102 275h7v7h-7zM1116 275h7v7h-7zM1136 275h34v7h-34zM1190 275h14v7h-14zM1420 275h7v7h-7zM1035 282h6v6h-6zM1055 282h7v6h-7zM1068 282h14v6h-14zM1095 282h7v6h-7zM1116 282h13v6h-13zM1136 282h7v6h-7zM1150 282h6v6h-6zM1420 282h7v6h-7zM1035 288h13v7h-13zM1055 288h7v7h-7zM1075 288h27v7h-27zM1136 288h7v7h-7zM1028 295h13v7h-13zM1055 295h7v7h-7zM1116 295h7v7h-7zM1021 302h7v7h-7zM1048 302h7v7h-7zM1116 302h20v7h-20zM1001 309h13v6h-13zM1035 309h6v6h-6zM1089 309h6v6h-6zM1123 309h20v6h-20zM1014 315h14v7h-14zM1048 315h7v7h-7zM1082 315h20v7h-20zM1123 315h13v7h-13zM1143 315h13v7h-13zM987 322h7v7h-7zM1014 322h7v7h-7zM1035 322h13v7h-13zM1082 322h7v7h-7zM1143 322h20v7h-20zM980 329h7v7h-7zM1014 329h7v7h-7zM1035 329h6v7h-6zM1089 329h6v7h-6zM1102 329h7v7h-7zM1136 329h14v7h-14zM1156 329h7v7h-7zM1366 329h7v7h-7zM1014 336h14v6h-14zM1089 336h6v6h-6zM1102 336h14v6h-14zM1129 336h14v6h-14zM1156 336h7v6h-7zM1014 342h7v7h-7zM1062 342h6v7h-6zM1123 342h20v7h-20zM1055 349h7v7h-7zM1089 349h6v7h-6zM1123 349h27v7h-27zM1055 356h7v7h-7zM1109 356h7v7h-7zM1123 356h13v7h-13zM1143 356h7v7h-7zM1021 363h7v6h-7zM1089 363h27v6h-27zM1123 363h13v6h-13zM1143 363h7v6h-7zM1190 363h7v6h-7zM1089 369h34v7h-34zM1136 369h20v7h-20zM1231 369h7v7h-7zM987 376h7v7h-7zM1116 376h20v7h-20zM1082 383h7v7h-7zM1109 383h7v7h-7zM1136 383h20v7h-20zM1143 390h7v6h-7zM987 396h7v7h-7zM1001 396h6v7h-6zM1041 396h7v7h-7zM1143 396h7v7h-7zM987 403h7v7h-7zM1001 403h13v7h-13zM1075 403h7v7h-7zM1116 403h7v7h-7zM1143 403h7v7h-7zM1265 403h6v7h-6zM994 410h27v7h-27zM1136 410h20v7h-20zM994 417h7v6h-7zM1007 417h14v6h-14zM1143 417h7v6h-7zM1197 417h14v6h-14zM1129 423h7v7h-7zM1204 423h7v7h-7zM1136 430h7v7h-7zM1244 430h7v7h-7zM1143 437h7v7h-7zM1035 444h6v7h-6zM1055 444h7v7h-7zM1136 444h7v7h-7zM1001 451h13v6h-13zM1021 451h14v6h-14zM1055 451h7v6h-7zM1136 451h14v6h-14zM1007 457h14v7h-14zM1028 457h20v7h-20zM1007 464h7v7h-7zM1035 464h13v7h-13zM1014 471h21v7h-21zM1041 471h7v7h-7zM1048 478h7v6h-7zM1041 484h7v7h-7zM1001 505h13v6h-13z"/>
<path shape-rendering="crispEdges" fill="#e00000" d="M974 86h6v6h-6zM960 92h27v7h-27zM994 92h7v7h-7zM947 99h47v7h-47zM960 106h14v7h-14zM980 106h7v7h-7zM980 113h7v6h-7zM1007 126h7v7h-7zM1007 133h7v7h-7zM1041 133h7v7h-7zM1095 133h7v7h-7zM1129 133h7v7h-7zM967 140h7v6h-7zM1001 140h20v6h-20zM1095 140h14v6h-14zM1129 140h7v6h-7zM967 146h7v7h-7zM1089 146h13v7h-13zM1055 153h7v7h-7zM1075 153h7v7h-7zM1102 153h7v7h-7zM1041 160h14v7h-14zM1001 167h20v6h-20zM1028 167h7v6h-7zM1041 167h14v6h-14zM1136 167h7v6h-7zM994 173h27v7h-27zM1035 173h13v7h-13zM994 180h13v7h-13zM1041 180h27v7h-27zM1129 180h7v7h-7zM994 187h7v7h-7zM1028 187h7v7h-7zM1041 187h34v7h-34zM1102 187h7v7h-7zM1116 187h27v7h-27zM1170 187h13v7h-13zM1028 194h7v6h-7zM1055 194h20v6h-20zM1109 194h41v6h-41zM1177 194h6v6h-6zM974 200h27v7h-27zM1048 200h20v7h-20zM1109 200h20v7h-20zM987 207h14v7h-14zM1028 207h7v7h-7zM1082 207h7v7h-7zM1123 207h6v7h-6zM987 214h7v7h-7zM1001 214h6v7h-6zM1014 214h7v7h-7zM1028 214h7v7h-7zM1082 214h7v7h-7zM1143 214h7v7h-7zM994 221h20v6h-20zM1021 221h7v6h-7zM1035 221h6v6h-6zM1082 221h13v6h-13zM1143 221h7v6h-7zM1082 227h13v7h-13zM1062 234h27v7h-27zM1095 234h7v7h-7zM1068 241h27v7h-27zM1068 248h7v6h-7zM1035 254h6v7h-6zM1068 254h7v7h-7zM1156 254h21v7h-21zM1035 261h6v7h-6zM1055 261h7v7h-7zM1068 261h7v7h-7zM1163 261h14v7h-14zM1427 261h7v7h-7zM1441 261h7v7h-7zM1028 268h13v7h-13zM1068 268h21v7h-21zM1095 268h7v7h-7zM1163 268h7v7h-7zM1420 268h28v7h-28zM1048 275h20v7h-20zM1075 275h7v7h-7zM1095 275h7v7h-7zM1427 275h21v7h-21zM1048 282h7v6h-7zM1082 282h13v6h-13zM1102 282h14v6h-14zM1129 282h7v6h-7zM1427 282h7v6h-7zM1048 288h7v7h-7zM1102 288h34v7h-34zM1041 295h14v7h-14zM1123 295h6v7h-6zM1035 302h13v7h-13zM1136 302h7v7h-7zM1014 309h7v6h-7zM1028 309h7v6h-7zM1041 309h14v6h-14zM1001 315h13v7h-13zM1028 315h20v7h-20zM1028 322h7v7h-7zM1089 322h13v7h-13zM1095 329h7v7h-7zM1150 329h6v7h-6zM1143 336h13v6h-13zM1116 356h7v7h-7zM1116 363h7v6h-7zM1136 363h7v6h-7zM1102 376h14v7h-14zM1136 376h14v7h-14zM994 396h7v7h-7zM994 403h7v7h-7zM1136 423h7v7h-7zM1211 423h6v7h-6zM1129 430h7v7h-7zM1028 444h7v7h-7zM1035 451h6v6h-6zM1021 457h7v7h-7zM1014 464h21v7h-21zM1048 464h7v7h-7zM1007 471h7v7h-7zM1048 471h7v7h-7z"/>
<rect x="905.90" y="18.20" width="595.70" height="586.50" fill="none" stroke="#111" stroke-width="2.1"/>
<path d="M916.70 18.20v3.6M916.70 604.70v-3.6M928.00 18.20v3.6M928.00 604.70v-3.6M939.30 18.20v3.6M939.30 604.70v-3.6M950.60 18.20v3.6M950.60 604.70v-3.6M961.90 18.20v3.6M961.90 604.70v-3.6M973.20 18.20v5.5M973.20 604.70v-5.5M984.50 18.20v3.6M984.50 604.70v-3.6M995.80 18.20v3.6M995.80 604.70v-3.6M1007.10 18.20v3.6M1007.10 604.70v-3.6M1018.40 18.20v3.6M1018.40 604.70v-3.6M1029.70 18.20v3.6M1029.70 604.70v-3.6M1041.00 18.20v5.5M1041.00 604.70v-5.5M1052.30 18.20v3.6M1052.30 604.70v-3.6M1063.60 18.20v3.6M1063.60 604.70v-3.6M1074.90 18.20v3.6M1074.90 604.70v-3.6M1086.20 18.20v3.6M1086.20 604.70v-3.6M1097.50 18.20v3.6M1097.50 604.70v-3.6M1108.80 18.20v5.5M1108.80 604.70v-5.5M1120.10 18.20v3.6M1120.10 604.70v-3.6M1131.40 18.20v3.6M1131.40 604.70v-3.6M1142.70 18.20v3.6M1142.70 604.70v-3.6M1154.00 18.20v3.6M1154.00 604.70v-3.6M1165.30 18.20v3.6M1165.30 604.70v-3.6M1176.60 18.20v5.5M1176.60 604.70v-5.5M1187.90 18.20v3.6M1187.90 604.70v-3.6M1199.20 18.20v3.6M1199.20 604.70v-3.6M1210.50 18.20v3.6M1210.50 604.70v-3.6M1221.80 18.20v3.6M1221.80 604.70v-3.6M1233.10 18.20v3.6M1233.10 604.70v-3.6M1244.40 18.20v5.5M1244.40 604.70v-5.5M1255.70 18.20v3.6M1255.70 604.70v-3.6M1267.00 18.20v3.6M1267.00 604.70v-3.6M1278.30 18.20v3.6M1278.30 604.70v-3.6M1289.60 18.20v3.6M1289.60 604.70v-3.6M1300.90 18.20v3.6M1300.90 604.70v-3.6M1312.20 18.20v5.5M1312.20 604.70v-5.5M1323.50 18.20v3.6M1323.50 604.70v-3.6M1334.80 18.20v3.6M1334.80 604.70v-3.6M1346.10 18.20v3.6M1346.10 604.70v-3.6M1357.40 18.20v3.6M1357.40 604.70v-3.6M1368.70 18.20v3.6M1368.70 604.70v-3.6M1380.00 18.20v5.5M1380.00 604.70v-5.5M1391.30 18.20v3.6M1391.30 604.70v-3.6M1402.60 18.20v3.6M1402.60 604.70v-3.6M1413.90 18.20v3.6M1413.90 604.70v-3.6M1425.20 18.20v3.6M1425.20 604.70v-3.6M1436.50 18.20v3.6M1436.50 604.70v-3.6M1447.80 18.20v5.5M1447.80 604.70v-5.5M1459.10 18.20v3.6M1459.10 604.70v-3.6M1470.40 18.20v3.6M1470.40 604.70v-3.6M1481.70 18.20v3.6M1481.70 604.70v-3.6M1493.00 18.20v3.6M1493.00 604.70v-3.6M905.90 20.60h3.6M1501.60 20.60h-3.6M905.90 31.90h3.6M1501.60 31.90h-3.6M905.90 43.20h3.6M1501.60 43.20h-3.6M905.90 54.50h3.6M1501.60 54.50h-3.6M905.90 65.80h5.5M1501.60 65.80h-5.5M905.90 77.10h3.6M1501.60 77.10h-3.6M905.90 88.40h3.6M1501.60 88.40h-3.6M905.90 99.70h3.6M1501.60 99.70h-3.6M905.90 111.00h3.6M1501.60 111.00h-3.6M905.90 122.30h3.6M1501.60 122.30h-3.6M905.90 133.60h5.5M1501.60 133.60h-5.5M905.90 144.90h3.6M1501.60 144.90h-3.6M905.90 156.20h3.6M1501.60 156.20h-3.6M905.90 167.50h3.6M1501.60 167.50h-3.6M905.90 178.80h3.6M1501.60 178.80h-3.6M905.90 190.10h3.6M1501.60 190.10h-3.6M905.90 201.40h5.5M1501.60 201.40h-5.5M905.90 212.70h3.6M1501.60 212.70h-3.6M905.90 224.00h3.6M1501.60 224.00h-3.6M905.90 235.30h3.6M1501.60 235.30h-3.6M905.90 246.60h3.6M1501.60 246.60h-3.6M905.90 257.90h3.6M1501.60 257.90h-3.6M905.90 269.20h5.5M1501.60 269.20h-5.5M905.90 280.50h3.6M1501.60 280.50h-3.6M905.90 291.80h3.6M1501.60 291.80h-3.6M905.90 303.10h3.6M1501.60 303.10h-3.6M905.90 314.40h3.6M1501.60 314.40h-3.6M905.90 325.70h3.6M1501.60 325.70h-3.6M905.90 337.00h5.5M1501.60 337.00h-5.5M905.90 348.30h3.6M1501.60 348.30h-3.6M905.90 359.60h3.6M1501.60 359.60h-3.6M905.90 370.90h3.6M1501.60 370.90h-3.6M905.90 382.20h3.6M1501.60 382.20h-3.6M905.90 393.50h3.6M1501.60 393.50h-3.6M905.90 404.80h5.5M1501.60 404.80h-5.5M905.90 416.10h3.6M1501.60 416.10h-3.6M905.90 427.40h3.6M1501.60 427.40h-3.6M905.90 438.70h3.6M1501.60 438.70h-3.6M905.90 450.00h3.6M1501.60 450.00h-3.6M905.90 461.30h3.6M1501.60 461.30h-3.6M905.90 472.60h5.5M1501.60 472.60h-5.5M905.90 483.90h3.6M1501.60 483.90h-3.6M905.90 495.20h3.6M1501.60 495.20h-3.6M905.90 506.50h3.6M1501.60 506.50h-3.6M905.90 517.80h3.6M1501.60 517.80h-3.6M905.90 529.10h3.6M1501.60 529.10h-3.6M905.90 540.40h5.5M1501.60 540.40h-5.5M905.90 551.70h3.6M1501.60 551.70h-3.6M905.90 563.00h3.6M1501.60 563.00h-3.6M905.90 574.30h3.6M1501.60 574.30h-3.6M905.90 585.60h3.6M1501.60 585.60h-3.6M905.90 596.90h3.6M1501.60 596.90h-3.6" stroke="#111" stroke-width="1.6" fill="none"/>
<path shape-rendering="crispEdges" fill="#00f2f2" d="M264 766h13v7h-13zM325 766h6v7h-6zM230 773h13v7h-13zM264 773h20v7h-20zM331 773h7v7h-7zM216 780h14v7h-14zM250 780h7v7h-7zM264 780h20v7h-20zM318 780h13v7h-13zM210 787h27v6h-27zM257 787h68v6h-68zM331 787h14v6h-14zM210 793h20v7h-20zM257 793h20v7h-20zM291 793h20v7h-20zM331 793h14v7h-14zM291 800h20v7h-20zM331 800h14v7h-14zM291 807h20v7h-20zM345 807h7v7h-7zM298 814h33v6h-33zM270 820h14v7h-14zM291 820h34v7h-34zM345 820h13v7h-13zM365 820h7v7h-7zM270 827h14v7h-14zM298 827h20v7h-20zM345 827h13v7h-13zM372 827h7v7h-7zM270 834h7v7h-7zM304 834h7v7h-7zM345 834h27v7h-27zM352 841h6v6h-6zM365 841h7v6h-7zM338 847h14v7h-14zM365 847h7v7h-7zM392 847h7v7h-7zM392 854h21v7h-21zM386 861h6v7h-6zM399 861h27v7h-27zM345 868h7v6h-7zM379 868h13v6h-13zM419 868h21v6h-21zM277 874h7v7h-7zM379 874h20v7h-20zM413 874h33v7h-33zM582 874h7v7h-7zM372 881h34v7h-34zM413 881h40v7h-40zM230 888h7v7h-7zM372 888h34v7h-34zM413 888h54v7h-54zM562 888h27v7h-27zM298 895h6v6h-6zM311 895h7v6h-7zM379 895h13v6h-13zM399 895h68v6h-68zM562 895h6v6h-6zM609 895h7v6h-7zM311 901h7v7h-7zM392 901h7v7h-7zM406 901h13v7h-13zM433 901h34v7h-34zM562 901h6v7h-6zM609 901h13v7h-13zM636 901h7v7h-7zM318 908h7v7h-7zM413 908h13v7h-13zM433 908h20v7h-20zM541 908h7v7h-7zM568 908h7v7h-7zM622 908h7v7h-7zM298 915h6v7h-6zM433 915h20v7h-20zM514 915h14v7h-14zM541 915h41v7h-41zM622 915h7v7h-7zM433 922h20v7h-20zM521 922h68v7h-68zM284 929h7v6h-7zM358 929h21v6h-21zM413 929h6v6h-6zM426 929h27v6h-27zM514 929h7v6h-7zM528 929h61v6h-61zM595 929h14v6h-14zM365 935h14v7h-14zM406 935h40v7h-40zM467 935h7v7h-7zM528 935h61v7h-61zM595 935h21v7h-21zM372 942h14v7h-14zM399 942h7v7h-7zM413 942h27v7h-27zM467 942h13v7h-13zM521 942h68v7h-68zM595 942h21v7h-21zM399 949h20v7h-20zM460 949h20v7h-20zM521 949h20v7h-20zM548 949h14v7h-14zM568 949h48v7h-48zM257 956h7v6h-7zM399 956h7v6h-7zM460 956h20v6h-20zM555 956h13v6h-13zM582 956h7v6h-7zM467 962h7v7h-7zM528 962h54v7h-54zM534 969h55v7h-55zM643 969h13v7h-13zM223 976h7v7h-7zM284 976h7v7h-7zM311 976h7v7h-7zM507 976h14v7h-14zM541 976h7v7h-7zM562 976h13v7h-13zM643 976h13v7h-13zM311 983h7v6h-7zM501 983h20v6h-20zM643 983h7v6h-7zM311 989h7v7h-7zM501 989h27v7h-27zM311 996h7v7h-7zM501 996h33v7h-33zM568 996h7v7h-7zM264 1003h6v7h-6zM501 1003h33v7h-33zM562 1003h13v7h-13zM487 1010h7v6h-7zM521 1010h13v6h-13zM541 1010h7v6h-7zM555 1010h20v6h-20zM514 1016h7v7h-7zM555 1016h13v7h-13zM345 1023h7v7h-7zM507 1023h7v7h-7zM433 1030h7v7h-7zM507 1030h7v7h-7zM304 1037h14v6h-14zM392 1037h7v6h-7zM413 1037h27v6h-27zM501 1037h13v6h-13zM304 1043h14v7h-14zM386 1043h6v7h-6zM399 1043h7v7h-7zM413 1043h27v7h-27zM230 1050h7v7h-7zM406 1050h27v7h-27zM386 1057h6v7h-6zM413 1057h6v7h-6zM413 1064h6v6h-6zM277 1070h7v7h-7zM372 1077h7v7h-7zM399 1077h7v7h-7zM365 1084h7v7h-7zM379 1084h7v7h-7zM358 1091h7v7h-7zM379 1091h27v7h-27zM413 1091h6v7h-6zM270 1098h7v6h-7zM392 1098h7v6h-7zM413 1104h6v7h-6zM419 1125h7v6h-7zM426 1131h14v7h-14zM426 1138h14v7h-14zM426 1145h20v7h-20zM426 1152h7v6h-7zM365 1158h7v7h-7zM270 1185h7v7h-7zM311 1185h7v7h-7zM270 1192h7v7h-7zM311 1192h7v7h-7zM270 1199h7v7h-7zM270 1206h7v6h-7zM277 1226h7v7h-7zM298 1226h13v7h-13zM284 1233h7v6h-7zM304 1233h21v6h-21zM284 1239h41v7h-41zM291 1246h27v7h-27zM304 1253h14v7h-14z"/>
<path shape-rendering="crispEdges" fill="#3d8eea" d="M243 766h7v7h-7zM257 766h7v7h-7zM277 766h7v7h-7zM291 766h20v7h-20zM243 773h7v7h-7zM257 773h7v7h-7zM284 773h7v7h-7zM311 773h20v7h-20zM230 780h20v7h-20zM257 780h7v7h-7zM284 780h7v7h-7zM298 780h20v7h-20zM331 780h7v7h-7zM203 787h7v6h-7zM237 787h20v6h-20zM325 787h6v6h-6zM189 793h21v7h-21zM230 793h7v7h-7zM243 793h14v7h-14zM277 793h14v7h-14zM311 793h20v7h-20zM189 800h14v7h-14zM210 800h20v7h-20zM243 800h48v7h-48zM318 800h13v7h-13zM216 807h7v7h-7zM230 807h27v7h-27zM270 807h21v7h-21zM311 807h20v7h-20zM338 807h7v7h-7zM230 814h13v6h-13zM257 814h7v6h-7zM270 814h28v6h-28zM331 814h21v6h-21zM196 820h20v7h-20zM230 820h13v7h-13zM264 820h6v7h-6zM284 820h7v7h-7zM325 820h20v7h-20zM358 820h7v7h-7zM182 827h34v7h-34zM230 827h7v7h-7zM264 827h6v7h-6zM291 827h7v7h-7zM318 827h13v7h-13zM358 827h14v7h-14zM176 834h34v7h-34zM257 834h13v7h-13zM277 834h27v7h-27zM311 834h14v7h-14zM338 834h7v7h-7zM372 834h14v7h-14zM189 841h7v6h-7zM257 841h34v6h-34zM331 841h21v6h-21zM358 841h7v6h-7zM372 841h7v6h-7zM250 847h14v7h-14zM277 847h7v7h-7zM331 847h7v7h-7zM352 847h13v7h-13zM372 847h20v7h-20zM257 854h7v7h-7zM331 854h48v7h-48zM386 854h6v7h-6zM203 861h7v7h-7zM250 861h14v7h-14zM331 861h7v7h-7zM352 861h6v7h-6zM379 861h7v7h-7zM392 861h7v7h-7zM277 868h7v6h-7zM304 868h7v6h-7zM318 868h7v6h-7zM365 868h14v6h-14zM392 868h14v6h-14zM413 868h6v6h-6zM210 874h6v7h-6zM284 874h14v7h-14zM304 874h21v7h-21zM365 874h14v7h-14zM399 874h14v7h-14zM446 874h7v7h-7zM284 881h34v7h-34zM365 881h7v7h-7zM406 881h7v7h-7zM453 881h14v7h-14zM562 881h40v7h-40zM284 888h20v7h-20zM325 888h13v7h-13zM365 888h7v7h-7zM406 888h7v7h-7zM474 888h6v7h-6zM548 888h14v7h-14zM602 888h14v7h-14zM196 895h7v6h-7zM291 895h7v6h-7zM304 895h7v6h-7zM318 895h20v6h-20zM358 895h21v6h-21zM392 895h7v6h-7zM467 895h13v6h-13zM541 895h21v6h-21zM568 895h21v6h-21zM616 895h13v6h-13zM298 901h13v7h-13zM318 901h7v7h-7zM331 901h7v7h-7zM345 901h20v7h-20zM372 901h7v7h-7zM386 901h6v7h-6zM399 901h7v7h-7zM419 901h14v7h-14zM467 901h7v7h-7zM541 901h21v7h-21zM568 901h14v7h-14zM602 901h7v7h-7zM622 901h7v7h-7zM182 908h14v7h-14zM203 908h7v7h-7zM284 908h34v7h-34zM325 908h40v7h-40zM372 908h14v7h-14zM392 908h21v7h-21zM426 908h7v7h-7zM453 908h21v7h-21zM548 908h20v7h-20zM575 908h47v7h-47zM629 908h21v7h-21zM176 915h27v7h-27zM264 915h34v7h-34zM304 915h7v7h-7zM318 915h7v7h-7zM331 915h34v7h-34zM406 915h27v7h-27zM453 915h14v7h-14zM507 915h7v7h-7zM582 915h27v7h-27zM616 915h6v7h-6zM629 915h14v7h-14zM189 922h14v7h-14zM277 922h27v7h-27zM331 922h34v7h-34zM372 922h7v7h-7zM406 922h27v7h-27zM453 922h14v7h-14zM474 922h6v7h-6zM507 922h14v7h-14zM589 922h47v7h-47zM656 922h7v7h-7zM189 929h21v6h-21zM243 929h14v6h-14zM291 929h13v6h-13zM318 929h7v6h-7zM331 929h27v6h-27zM379 929h27v6h-27zM419 929h7v6h-7zM453 929h27v6h-27zM507 929h7v6h-7zM521 929h7v6h-7zM589 929h6v6h-6zM609 929h27v6h-27zM189 935h14v7h-14zM250 935h7v7h-7zM291 935h13v7h-13zM318 935h13v7h-13zM338 935h7v7h-7zM352 935h13v7h-13zM379 935h27v7h-27zM446 935h21v7h-21zM474 935h13v7h-13zM507 935h21v7h-21zM589 935h6v7h-6zM616 935h6v7h-6zM629 935h14v7h-14zM210 942h6v7h-6zM250 942h7v7h-7zM270 942h7v7h-7zM291 942h7v7h-7zM325 942h13v7h-13zM345 942h7v7h-7zM358 942h14v7h-14zM386 942h13v7h-13zM406 942h7v7h-7zM440 942h6v7h-6zM453 942h14v7h-14zM501 942h20v7h-20zM589 942h6v7h-6zM616 942h27v7h-27zM223 949h7v7h-7zM250 949h14v7h-14zM291 949h7v7h-7zM318 949h81v7h-81zM419 949h41v7h-41zM480 949h7v7h-7zM501 949h20v7h-20zM541 949h7v7h-7zM616 949h20v7h-20zM203 956h7v6h-7zM223 956h7v6h-7zM250 956h7v6h-7zM284 956h7v6h-7zM331 956h27v6h-27zM379 956h20v6h-20zM406 956h27v6h-27zM453 956h7v6h-7zM480 956h7v6h-7zM494 956h13v6h-13zM521 956h34v6h-34zM568 956h14v6h-14zM589 956h47v6h-47zM210 962h13v7h-13zM237 962h6v7h-6zM311 962h7v7h-7zM325 962h40v7h-40zM399 962h41v7h-41zM460 962h7v7h-7zM474 962h6v7h-6zM487 962h27v7h-27zM521 962h7v7h-7zM582 962h13v7h-13zM602 962h34v7h-34zM650 962h20v7h-20zM216 969h7v7h-7zM230 969h20v7h-20zM257 969h7v7h-7zM304 969h27v7h-27zM345 969h27v7h-27zM406 969h27v7h-27zM467 969h7v7h-7zM487 969h7v7h-7zM501 969h33v7h-33zM589 969h6v7h-6zM609 969h20v7h-20zM636 969h7v7h-7zM656 969h14v7h-14zM216 976h7v7h-7zM237 976h6v7h-6zM250 976h7v7h-7zM304 976h7v7h-7zM318 976h13v7h-13zM352 976h13v7h-13zM419 976h21v7h-21zM460 976h7v7h-7zM501 976h6v7h-6zM521 976h20v7h-20zM548 976h14v7h-14zM575 976h14v7h-14zM609 976h34v7h-34zM656 976h14v7h-14zM250 983h14v6h-14zM304 983h7v6h-7zM318 983h20v6h-20zM352 983h13v6h-13zM460 983h14v6h-14zM521 983h13v6h-13zM555 983h34v6h-34zM609 983h34v6h-34zM650 983h13v6h-13zM250 989h20v7h-20zM304 989h7v7h-7zM318 989h20v7h-20zM345 989h20v7h-20zM460 989h14v7h-14zM528 989h6v7h-6zM555 989h20v7h-20zM582 989h13v7h-13zM622 989h41v7h-41zM264 996h20v7h-20zM304 996h7v7h-7zM318 996h20v7h-20zM345 996h7v7h-7zM534 996h7v7h-7zM555 996h13v7h-13zM575 996h7v7h-7zM589 996h67v7h-67zM270 1003h21v7h-21zM298 1003h27v7h-27zM345 1003h7v7h-7zM480 1003h21v7h-21zM534 1003h28v7h-28zM575 1003h7v7h-7zM589 1003h47v7h-47zM643 1003h7v7h-7zM270 1010h14v6h-14zM311 1010h20v6h-20zM338 1010h7v6h-7zM358 1010h7v6h-7zM379 1010h7v6h-7zM392 1010h14v6h-14zM474 1010h13v6h-13zM494 1010h27v6h-27zM534 1010h7v6h-7zM595 1010h14v6h-14zM616 1010h13v6h-13zM311 1016h7v7h-7zM345 1016h20v7h-20zM392 1016h7v7h-7zM426 1016h20v7h-20zM480 1016h34v7h-34zM521 1016h7v7h-7zM548 1016h7v7h-7zM568 1016h7v7h-7zM616 1016h6v7h-6zM230 1023h20v7h-20zM304 1023h41v7h-41zM352 1023h27v7h-27zM386 1023h20v7h-20zM426 1023h20v7h-20zM474 1023h13v7h-13zM494 1023h13v7h-13zM514 1023h14v7h-14zM548 1023h20v7h-20zM230 1030h7v7h-7zM304 1030h27v7h-27zM338 1030h20v7h-20zM372 1030h20v7h-20zM419 1030h14v7h-14zM440 1030h13v7h-13zM467 1030h20v7h-20zM501 1030h6v7h-6zM514 1030h14v7h-14zM562 1030h6v7h-6zM223 1037h14v6h-14zM291 1037h13v6h-13zM318 1037h40v6h-40zM372 1037h20v6h-20zM399 1037h14v6h-14zM440 1037h40v6h-40zM494 1037h7v6h-7zM514 1037h7v6h-7zM528 1037h13v6h-13zM548 1037h14v6h-14zM223 1043h14v7h-14zM298 1043h6v7h-6zM318 1043h7v7h-7zM338 1043h20v7h-20zM392 1043h7v7h-7zM406 1043h7v7h-7zM440 1043h6v7h-6zM453 1043h7v7h-7zM494 1043h68v7h-68zM237 1050h6v7h-6zM250 1050h14v7h-14zM284 1050h7v7h-7zM298 1050h20v7h-20zM338 1050h20v7h-20zM372 1050h14v7h-14zM392 1050h14v7h-14zM433 1050h7v7h-7zM487 1050h14v7h-14zM507 1050h7v7h-7zM257 1057h7v7h-7zM270 1057h34v7h-34zM311 1057h7v7h-7zM392 1057h21v7h-21zM419 1057h14v7h-14zM277 1064h14v6h-14zM311 1064h14v6h-14zM379 1064h13v6h-13zM406 1064h7v6h-7zM419 1064h7v6h-7zM284 1070h27v7h-27zM338 1070h27v7h-27zM386 1070h6v7h-6zM406 1070h7v7h-7zM419 1070h7v7h-7zM433 1070h13v7h-13zM480 1070h7v7h-7zM284 1077h20v7h-20zM311 1077h7v7h-7zM345 1077h27v7h-27zM379 1077h13v7h-13zM406 1077h13v7h-13zM541 1077h14v7h-14zM291 1084h7v7h-7zM304 1084h7v7h-7zM345 1084h20v7h-20zM372 1084h7v7h-7zM386 1084h33v7h-33zM446 1084h7v7h-7zM474 1084h6v7h-6zM345 1091h13v7h-13zM365 1091h14v7h-14zM406 1091h7v7h-7zM419 1091h7v7h-7zM365 1098h7v6h-7zM379 1098h13v6h-13zM399 1098h47v6h-47zM386 1104h27v7h-27zM399 1111h20v7h-20zM426 1111h7v7h-7zM494 1111h7v7h-7zM304 1118h7v7h-7zM406 1118h34v7h-34zM325 1125h6v6h-6zM358 1125h7v6h-7zM386 1125h6v6h-6zM406 1125h13v6h-13zM426 1125h20v6h-20zM365 1131h7v7h-7zM386 1131h6v7h-6zM406 1131h7v7h-7zM419 1131h7v7h-7zM474 1131h6v7h-6zM237 1138h6v7h-6zM358 1138h7v7h-7zM372 1138h14v7h-14zM413 1138h13v7h-13zM440 1138h27v7h-27zM365 1145h7v7h-7zM446 1145h14v7h-14zM372 1152h20v6h-20zM413 1152h13v6h-13zM433 1152h7v6h-7zM372 1158h20v7h-20zM277 1165h7v7h-7zM264 1172h6v7h-6zM277 1172h14v7h-14zM325 1172h40v7h-40zM264 1179h20v6h-20zM304 1179h14v6h-14zM331 1179h7v6h-7zM345 1179h7v6h-7zM257 1185h13v7h-13zM277 1185h7v7h-7zM304 1185h7v7h-7zM250 1192h20v7h-20zM304 1192h7v7h-7zM250 1199h20v7h-20zM291 1199h7v7h-7zM304 1199h14v7h-14zM250 1206h20v6h-20zM277 1206h41v6h-41zM250 1212h34v7h-34zM298 1212h6v7h-6zM311 1212h7v7h-7zM250 1219h75v7h-75zM264 1226h13v7h-13zM284 1226h14v7h-14zM311 1226h14v7h-14zM257 1233h13v6h-13zM277 1233h7v6h-7zM291 1233h13v6h-13zM318 1246h7v7h-7zM298 1253h6v7h-6zM318 1253h7v7h-7z"/>
<path shape-rendering="crispEdges" fill="#25d47f" d="M250 766h7v7h-7zM284 766h7v7h-7zM318 766h7v7h-7zM250 773h7v7h-7zM291 773h20v7h-20zM237 793h6v7h-6zM203 800h7v7h-7zM237 800h6v7h-6zM311 800h7v7h-7zM196 807h14v7h-14zM223 807h7v7h-7zM257 807h13v7h-13zM331 807h7v7h-7zM196 814h7v6h-7zM210 814h20v6h-20zM243 814h14v6h-14zM264 814h6v6h-6zM216 820h14v7h-14zM243 820h7v7h-7zM257 820h7v7h-7zM176 827h6v7h-6zM216 827h14v7h-14zM237 827h13v7h-13zM257 827h7v7h-7zM331 827h14v7h-14zM325 834h13v7h-13zM182 841h7v6h-7zM250 841h7v6h-7zM291 841h20v6h-20zM318 841h13v6h-13zM379 841h7v6h-7zM243 847h7v7h-7zM264 847h13v7h-13zM284 847h20v7h-20zM311 847h7v7h-7zM325 847h6v7h-6zM243 854h14v7h-14zM264 854h20v7h-20zM325 854h6v7h-6zM379 854h7v7h-7zM243 861h7v7h-7zM264 861h40v7h-40zM318 861h13v7h-13zM338 861h14v7h-14zM365 861h14v7h-14zM203 868h7v6h-7zM264 868h13v6h-13zM284 868h20v6h-20zM311 868h7v6h-7zM325 868h20v6h-20zM406 868h7v6h-7zM203 874h7v7h-7zM331 874h7v7h-7zM352 874h13v7h-13zM196 881h27v7h-27zM277 881h7v7h-7zM318 881h7v7h-7zM331 881h7v7h-7zM358 881h7v7h-7zM548 881h14v7h-14zM196 888h27v7h-27zM304 888h21v7h-21zM358 888h7v7h-7zM467 888h7v7h-7zM589 888h6v7h-6zM210 895h13v6h-13zM270 895h7v6h-7zM284 895h7v6h-7zM338 895h20v6h-20zM480 895h7v6h-7zM589 895h6v6h-6zM602 895h7v6h-7zM629 895h7v6h-7zM182 901h14v7h-14zM203 901h7v7h-7zM216 901h14v7h-14zM291 901h7v7h-7zM325 901h6v7h-6zM338 901h7v7h-7zM379 901h7v7h-7zM480 901h21v7h-21zM582 901h20v7h-20zM629 901h7v7h-7zM196 908h7v7h-7zM210 908h6v7h-6zM237 908h6v7h-6zM270 908h14v7h-14zM365 908h7v7h-7zM386 908h6v7h-6zM480 908h7v7h-7zM507 908h7v7h-7zM325 915h6v7h-6zM365 915h14v7h-14zM386 915h6v7h-6zM399 915h7v7h-7zM467 915h7v7h-7zM609 915h7v7h-7zM643 915h13v7h-13zM182 922h7v7h-7zM203 922h7v7h-7zM270 922h7v7h-7zM311 922h7v7h-7zM325 922h6v7h-6zM365 922h7v7h-7zM379 922h20v7h-20zM467 922h7v7h-7zM480 922h7v7h-7zM636 922h7v7h-7zM182 929h7v6h-7zM210 929h6v6h-6zM270 929h14v6h-14zM304 929h7v6h-7zM406 929h7v6h-7zM501 929h6v6h-6zM636 929h7v6h-7zM203 935h7v7h-7zM243 935h7v7h-7zM257 935h13v7h-13zM277 935h14v7h-14zM304 935h14v7h-14zM331 935h7v7h-7zM345 935h7v7h-7zM501 935h6v7h-6zM622 935h7v7h-7zM643 935h13v7h-13zM243 942h7v7h-7zM257 942h7v7h-7zM277 942h7v7h-7zM298 942h6v7h-6zM318 942h7v7h-7zM338 942h7v7h-7zM352 942h6v7h-6zM446 942h7v7h-7zM480 942h7v7h-7zM203 949h7v7h-7zM230 949h20v7h-20zM270 949h7v7h-7zM311 949h7v7h-7zM494 949h7v7h-7zM562 949h6v7h-6zM656 949h7v7h-7zM210 956h13v6h-13zM243 956h7v6h-7zM311 956h7v6h-7zM325 956h6v6h-6zM365 956h14v6h-14zM446 956h7v6h-7zM487 956h7v6h-7zM507 956h14v6h-14zM643 956h20v6h-20zM223 962h14v7h-14zM243 962h34v7h-34zM284 962h7v7h-7zM298 962h13v7h-13zM318 962h7v7h-7zM365 962h34v7h-34zM440 962h6v7h-6zM453 962h7v7h-7zM480 962h7v7h-7zM514 962h7v7h-7zM595 962h7v7h-7zM643 962h7v7h-7zM670 962h7v7h-7zM223 969h7v7h-7zM250 969h7v7h-7zM264 969h6v7h-6zM291 969h13v7h-13zM331 969h14v7h-14zM386 969h6v7h-6zM399 969h7v7h-7zM433 969h13v7h-13zM453 969h14v7h-14zM474 969h6v7h-6zM494 969h7v7h-7zM595 969h14v7h-14zM629 969h7v7h-7zM670 969h13v7h-13zM243 976h7v7h-7zM257 976h7v7h-7zM291 976h13v7h-13zM331 976h21v7h-21zM365 976h21v7h-21zM406 976h13v7h-13zM453 976h7v7h-7zM467 976h7v7h-7zM494 976h7v7h-7zM602 976h7v7h-7zM670 976h7v7h-7zM223 983h7v6h-7zM264 983h13v6h-13zM298 983h6v6h-6zM345 983h7v6h-7zM379 983h7v6h-7zM453 983h7v6h-7zM494 983h7v6h-7zM534 983h21v6h-21zM589 983h6v6h-6zM663 983h7v6h-7zM270 989h7v7h-7zM298 989h6v7h-6zM338 989h7v7h-7zM379 989h7v7h-7zM487 989h14v7h-14zM534 989h7v7h-7zM575 989h7v7h-7zM595 989h7v7h-7zM609 989h13v7h-13zM243 996h7v7h-7zM298 996h6v7h-6zM352 996h20v7h-20zM379 996h13v7h-13zM460 996h27v7h-27zM494 996h7v7h-7zM541 996h14v7h-14zM582 996h7v7h-7zM250 1003h7v7h-7zM291 1003h7v7h-7zM325 1003h20v7h-20zM358 1003h7v7h-7zM372 1003h34v7h-34zM474 1003h6v7h-6zM582 1003h7v7h-7zM636 1003h7v7h-7zM243 1010h7v6h-7zM298 1010h13v6h-13zM345 1010h13v6h-13zM372 1010h7v6h-7zM419 1010h21v6h-21zM548 1010h7v6h-7zM575 1010h20v6h-20zM609 1010h7v6h-7zM636 1010h7v6h-7zM237 1016h6v7h-6zM277 1016h7v7h-7zM291 1016h7v7h-7zM304 1016h7v7h-7zM318 1016h13v7h-13zM338 1016h7v7h-7zM372 1016h20v7h-20zM399 1016h14v7h-14zM474 1016h6v7h-6zM528 1016h20v7h-20zM575 1016h7v7h-7zM609 1016h7v7h-7zM277 1023h27v7h-27zM379 1023h7v7h-7zM406 1023h7v7h-7zM419 1023h7v7h-7zM460 1023h14v7h-14zM487 1023h7v7h-7zM528 1023h20v7h-20zM575 1023h7v7h-7zM223 1030h7v7h-7zM237 1030h13v7h-13zM331 1030h7v7h-7zM358 1030h7v7h-7zM392 1030h21v7h-21zM453 1030h14v7h-14zM487 1030h14v7h-14zM528 1030h34v7h-34zM575 1030h7v7h-7zM358 1037h14v6h-14zM480 1037h14v6h-14zM521 1037h7v6h-7zM541 1037h7v6h-7zM568 1037h14v6h-14zM237 1043h27v7h-27zM277 1043h21v7h-21zM325 1043h6v7h-6zM358 1043h28v7h-28zM460 1043h7v7h-7zM480 1043h14v7h-14zM562 1043h6v7h-6zM223 1050h7v7h-7zM243 1050h7v7h-7zM264 1050h6v7h-6zM277 1050h7v7h-7zM291 1050h7v7h-7zM318 1050h7v7h-7zM331 1050h7v7h-7zM358 1050h14v7h-14zM440 1050h13v7h-13zM480 1050h7v7h-7zM501 1050h6v7h-6zM514 1050h7v7h-7zM528 1050h13v7h-13zM548 1050h7v7h-7zM562 1050h6v7h-6zM223 1057h7v7h-7zM243 1057h14v7h-14zM264 1057h6v7h-6zM318 1057h7v7h-7zM331 1057h27v7h-27zM372 1057h14v7h-14zM480 1057h14v7h-14zM507 1057h14v7h-14zM548 1057h7v7h-7zM270 1064h7v6h-7zM298 1064h13v6h-13zM325 1064h33v6h-33zM392 1064h7v6h-7zM426 1064h20v6h-20zM480 1064h14v6h-14zM270 1070h7v7h-7zM311 1070h27v7h-27zM399 1070h7v7h-7zM413 1070h6v7h-6zM426 1070h7v7h-7zM446 1070h7v7h-7zM474 1070h6v7h-6zM487 1070h7v7h-7zM521 1070h7v7h-7zM541 1070h14v7h-14zM230 1077h7v7h-7zM277 1077h7v7h-7zM304 1077h7v7h-7zM318 1077h7v7h-7zM338 1077h7v7h-7zM419 1077h34v7h-34zM480 1077h21v7h-21zM534 1077h7v7h-7zM250 1084h7v7h-7zM298 1084h6v7h-6zM311 1084h7v7h-7zM325 1084h6v7h-6zM338 1084h7v7h-7zM419 1084h7v7h-7zM433 1084h13v7h-13zM480 1084h34v7h-34zM528 1084h6v7h-6zM284 1091h14v7h-14zM304 1091h14v7h-14zM331 1091h14v7h-14zM426 1091h20v7h-20zM487 1091h14v7h-14zM528 1091h6v7h-6zM237 1098h13v6h-13zM284 1098h7v6h-7zM345 1098h13v6h-13zM372 1098h7v6h-7zM446 1098h7v6h-7zM480 1098h14v6h-14zM345 1104h7v7h-7zM379 1104h7v7h-7zM419 1104h14v7h-14zM474 1104h6v7h-6zM487 1104h14v7h-14zM419 1111h7v7h-7zM487 1111h7v7h-7zM243 1118h7v7h-7zM298 1118h6v7h-6zM311 1118h7v7h-7zM325 1118h6v7h-6zM365 1118h14v7h-14zM399 1118h7v7h-7zM440 1118h6v7h-6zM480 1118h21v7h-21zM291 1125h7v6h-7zM304 1125h21v6h-21zM372 1125h14v6h-14zM474 1125h20v6h-20zM277 1131h7v7h-7zM358 1131h7v7h-7zM372 1131h14v7h-14zM392 1131h14v7h-14zM413 1131h6v7h-6zM440 1131h34v7h-34zM243 1138h7v7h-7zM365 1138h7v7h-7zM386 1138h13v7h-13zM237 1145h6v7h-6zM338 1145h7v7h-7zM358 1145h7v7h-7zM372 1145h27v7h-27zM419 1145h7v7h-7zM250 1152h14v6h-14zM284 1152h7v6h-7zM358 1152h14v6h-14zM392 1152h14v6h-14zM284 1158h7v7h-7zM358 1158h7v7h-7zM243 1165h7v7h-7zM270 1165h7v7h-7zM284 1165h14v7h-14zM304 1165h21v7h-21zM338 1165h14v7h-14zM358 1165h7v7h-7zM257 1172h7v7h-7zM270 1172h7v7h-7zM291 1172h7v7h-7zM304 1172h21v7h-21zM257 1179h7v6h-7zM284 1179h20v6h-20zM250 1185h7v7h-7zM291 1185h13v7h-13zM243 1192h7v7h-7zM277 1192h27v7h-27zM243 1199h7v7h-7zM277 1199h14v7h-14zM298 1199h6v7h-6zM284 1212h14v7h-14zM304 1212h7v7h-7zM257 1226h7v7h-7z"/>
<path shape-rendering="crispEdges" fill="#f5e11c" d="M311 766h7v7h-7zM291 780h7v7h-7zM182 800h7v7h-7zM230 800h7v7h-7zM182 807h14v7h-14zM210 807h6v7h-6zM189 814h7v6h-7zM203 814h7v6h-7zM182 820h14v7h-14zM250 820h7v7h-7zM169 827h7v7h-7zM169 834h7v7h-7zM210 834h20v7h-20zM237 834h13v7h-13zM176 841h6v6h-6zM196 841h7v6h-7zM311 841h7v6h-7zM189 847h7v7h-7zM291 854h7v7h-7zM304 854h7v7h-7zM318 854h7v7h-7zM223 861h20v7h-20zM304 861h14v7h-14zM358 861h7v7h-7zM216 868h27v6h-27zM250 868h14v6h-14zM352 868h13v6h-13zM196 874h7v7h-7zM216 874h34v7h-34zM264 874h13v7h-13zM298 874h6v7h-6zM325 874h6v7h-6zM338 874h14v7h-14zM176 881h6v7h-6zM230 881h20v7h-20zM270 881h7v7h-7zM325 881h6v7h-6zM345 881h13v7h-13zM176 888h6v7h-6zM223 888h7v7h-7zM277 888h7v7h-7zM338 888h7v7h-7zM352 888h6v7h-6zM595 888h7v7h-7zM176 895h6v6h-6zM189 895h7v6h-7zM203 895h7v6h-7zM595 895h7v6h-7zM176 901h6v7h-6zM196 901h7v7h-7zM210 901h6v7h-6zM230 901h7v7h-7zM264 901h6v7h-6zM284 901h7v7h-7zM474 901h6v7h-6zM176 908h6v7h-6zM216 908h14v7h-14zM264 908h6v7h-6zM474 908h6v7h-6zM487 908h20v7h-20zM203 915h13v7h-13zM257 915h7v7h-7zM311 915h7v7h-7zM379 915h7v7h-7zM392 915h7v7h-7zM474 915h13v7h-13zM501 915h6v7h-6zM216 922h7v7h-7zM243 922h27v7h-27zM304 922h7v7h-7zM318 922h7v7h-7zM399 922h7v7h-7zM494 922h13v7h-13zM643 922h7v7h-7zM237 929h6v6h-6zM257 929h13v6h-13zM311 929h7v6h-7zM325 929h6v6h-6zM480 929h21v6h-21zM650 929h20v6h-20zM210 935h6v7h-6zM230 935h7v7h-7zM270 935h7v7h-7zM487 935h14v7h-14zM656 935h21v7h-21zM196 942h14v7h-14zM223 942h20v7h-20zM264 942h6v7h-6zM304 942h14v7h-14zM487 942h14v7h-14zM643 942h13v7h-13zM663 942h20v7h-20zM216 949h7v7h-7zM264 949h6v7h-6zM284 949h7v7h-7zM298 949h6v7h-6zM487 949h7v7h-7zM636 949h20v7h-20zM677 949h13v7h-13zM230 956h7v6h-7zM264 956h20v6h-20zM291 956h20v6h-20zM318 956h7v6h-7zM358 956h7v6h-7zM433 956h13v6h-13zM663 956h20v6h-20zM277 962h7v7h-7zM291 962h7v7h-7zM446 962h7v7h-7zM636 962h7v7h-7zM677 962h13v7h-13zM270 969h21v7h-21zM372 969h14v7h-14zM392 969h7v7h-7zM480 969h7v7h-7zM683 969h7v7h-7zM230 976h7v7h-7zM386 976h6v7h-6zM399 976h7v7h-7zM474 976h20v7h-20zM589 976h13v7h-13zM230 983h20v6h-20zM277 983h7v6h-7zM291 983h7v6h-7zM338 983h7v6h-7zM365 983h14v6h-14zM386 983h6v6h-6zM413 983h6v6h-6zM433 983h13v6h-13zM474 983h6v6h-6zM487 983h7v6h-7zM595 983h14v6h-14zM277 989h21v7h-21zM365 989h14v7h-14zM386 989h13v7h-13zM453 989h7v7h-7zM474 989h6v7h-6zM541 989h14v7h-14zM602 989h7v7h-7zM250 996h14v7h-14zM284 996h7v7h-7zM338 996h7v7h-7zM372 996h7v7h-7zM392 996h14v7h-14zM433 996h7v7h-7zM487 996h7v7h-7zM243 1003h7v7h-7zM257 1003h7v7h-7zM352 1003h6v7h-6zM365 1003h7v7h-7zM406 1003h34v7h-34zM460 1003h14v7h-14zM237 1010h6v6h-6zM250 1010h20v6h-20zM284 1010h14v6h-14zM331 1010h7v6h-7zM365 1010h7v6h-7zM386 1010h6v6h-6zM406 1010h13v6h-13zM440 1010h6v6h-6zM460 1010h14v6h-14zM629 1010h7v6h-7zM223 1016h14v7h-14zM243 1016h27v7h-27zM298 1016h6v7h-6zM331 1016h7v7h-7zM365 1016h7v7h-7zM413 1016h13v7h-13zM467 1016h7v7h-7zM582 1016h27v7h-27zM223 1023h7v7h-7zM250 1023h7v7h-7zM270 1023h7v7h-7zM413 1023h6v7h-6zM446 1023h14v7h-14zM568 1023h7v7h-7zM582 1023h7v7h-7zM595 1023h7v7h-7zM609 1023h7v7h-7zM264 1030h13v7h-13zM291 1030h13v7h-13zM365 1030h7v7h-7zM413 1030h6v7h-6zM568 1030h7v7h-7zM595 1030h7v7h-7zM237 1037h13v6h-13zM277 1037h14v6h-14zM562 1037h6v6h-6zM589 1037h6v6h-6zM264 1043h13v7h-13zM331 1043h7v7h-7zM446 1043h7v7h-7zM467 1043h13v7h-13zM575 1043h7v7h-7zM270 1050h7v7h-7zM325 1050h6v7h-6zM386 1050h6v7h-6zM453 1050h7v7h-7zM521 1050h7v7h-7zM541 1050h7v7h-7zM555 1050h7v7h-7zM568 1050h7v7h-7zM230 1057h7v7h-7zM304 1057h7v7h-7zM325 1057h6v7h-6zM358 1057h14v7h-14zM433 1057h20v7h-20zM467 1057h13v7h-13zM501 1057h6v7h-6zM528 1057h6v7h-6zM541 1057h7v7h-7zM562 1057h13v7h-13zM223 1064h7v6h-7zM264 1064h6v6h-6zM291 1064h7v6h-7zM358 1064h21v6h-21zM399 1064h7v6h-7zM446 1064h7v6h-7zM467 1064h13v6h-13zM501 1064h13v6h-13zM541 1064h21v6h-21zM264 1070h6v7h-6zM365 1070h21v7h-21zM392 1070h7v7h-7zM453 1070h14v7h-14zM494 1070h13v7h-13zM534 1070h7v7h-7zM555 1070h7v7h-7zM237 1077h20v7h-20zM270 1077h7v7h-7zM325 1077h13v7h-13zM392 1077h7v7h-7zM501 1077h13v7h-13zM230 1084h20v7h-20zM277 1084h14v7h-14zM318 1084h7v7h-7zM331 1084h7v7h-7zM426 1084h7v7h-7zM514 1084h7v7h-7zM534 1084h7v7h-7zM230 1091h47v7h-47zM298 1091h6v7h-6zM318 1091h13v7h-13zM446 1091h7v7h-7zM460 1091h27v7h-27zM501 1091h27v7h-27zM230 1098h7v6h-7zM291 1098h13v6h-13zM318 1098h27v6h-27zM358 1098h7v6h-7zM453 1098h27v6h-27zM494 1098h7v6h-7zM507 1098h21v6h-21zM250 1104h7v7h-7zM298 1104h6v7h-6zM318 1104h7v7h-7zM352 1104h27v7h-27zM433 1104h20v7h-20zM467 1104h7v7h-7zM480 1104h7v7h-7zM501 1104h6v7h-6zM243 1111h14v7h-14zM291 1111h20v7h-20zM325 1111h61v7h-61zM392 1111h7v7h-7zM433 1111h20v7h-20zM474 1111h13v7h-13zM501 1111h13v7h-13zM237 1118h6v7h-6zM250 1118h7v7h-7zM291 1118h7v7h-7zM318 1118h7v7h-7zM331 1118h7v7h-7zM352 1118h13v7h-13zM379 1118h7v7h-7zM446 1118h7v7h-7zM467 1118h13v7h-13zM237 1125h13v6h-13zM277 1125h14v6h-14zM365 1125h7v6h-7zM399 1125h7v6h-7zM446 1125h7v6h-7zM460 1125h14v6h-14zM237 1131h20v7h-20zM298 1131h27v7h-27zM352 1131h6v7h-6zM250 1138h7v7h-7zM270 1138h21v7h-21zM311 1138h14v7h-14zM331 1138h14v7h-14zM352 1138h6v7h-6zM399 1138h14v7h-14zM243 1145h21v7h-21zM277 1145h14v7h-14zM325 1145h13v7h-13zM345 1145h13v7h-13zM406 1145h13v7h-13zM243 1152h7v6h-7zM277 1152h7v6h-7zM291 1152h7v6h-7zM331 1152h7v6h-7zM352 1152h6v6h-6zM406 1152h7v6h-7zM243 1158h41v7h-41zM291 1158h13v7h-13zM311 1158h7v7h-7zM325 1158h13v7h-13zM345 1158h13v7h-13zM257 1165h13v7h-13zM298 1165h6v7h-6zM325 1165h13v7h-13zM352 1165h6v7h-6zM243 1172h7v7h-7zM298 1172h6v7h-6zM338 1179h7v6h-7zM243 1185h7v7h-7zM284 1185h7v7h-7z"/>
<path shape-rendering="crispEdges" fill="#e00000" d="M176 814h13v6h-13zM169 820h13v7h-13zM250 827h7v7h-7zM284 827h7v7h-7zM230 834h7v7h-7zM250 834h7v7h-7zM169 841h7v6h-7zM203 841h47v6h-47zM169 847h20v7h-20zM196 847h47v7h-47zM304 847h7v7h-7zM318 847h7v7h-7zM169 854h74v7h-74zM284 854h7v7h-7zM298 854h6v7h-6zM311 854h7v7h-7zM169 861h34v7h-34zM210 861h13v7h-13zM169 868h34v6h-34zM210 868h6v6h-6zM243 868h7v6h-7zM169 874h27v7h-27zM250 874h14v7h-14zM169 881h7v7h-7zM182 881h14v7h-14zM223 881h7v7h-7zM250 881h20v7h-20zM338 881h7v7h-7zM169 888h7v7h-7zM182 888h14v7h-14zM237 888h40v7h-40zM345 888h7v7h-7zM169 895h7v6h-7zM182 895h7v6h-7zM223 895h47v6h-47zM277 895h7v6h-7zM237 901h27v7h-27zM270 901h14v7h-14zM365 901h7v7h-7zM230 908h7v7h-7zM243 908h21v7h-21zM216 915h41v7h-41zM487 915h14v7h-14zM210 922h6v7h-6zM223 922h20v7h-20zM487 922h7v7h-7zM650 922h6v7h-6zM216 929h21v6h-21zM643 929h7v6h-7zM216 935h14v7h-14zM237 935h6v7h-6zM216 942h7v7h-7zM284 942h7v7h-7zM656 942h7v7h-7zM210 949h6v7h-6zM277 949h7v7h-7zM304 949h7v7h-7zM663 949h14v7h-14zM237 956h6v6h-6zM636 956h7v6h-7zM683 956h7v6h-7zM690 962h7v7h-7zM446 969h7v7h-7zM264 976h20v7h-20zM392 976h7v7h-7zM440 976h13v7h-13zM284 983h7v6h-7zM392 983h21v6h-21zM419 983h14v6h-14zM446 983h7v6h-7zM480 983h7v6h-7zM223 989h27v7h-27zM399 989h54v7h-54zM480 989h7v7h-7zM230 996h13v7h-13zM291 996h7v7h-7zM406 996h27v7h-27zM440 996h20v7h-20zM230 1003h13v7h-13zM440 1003h20v7h-20zM230 1010h7v6h-7zM446 1010h14v6h-14zM270 1016h7v7h-7zM284 1016h7v7h-7zM446 1016h21v7h-21zM257 1023h13v7h-13zM589 1023h6v7h-6zM602 1023h7v7h-7zM250 1030h14v7h-14zM277 1030h14v7h-14zM582 1030h13v7h-13zM250 1037h27v6h-27zM582 1037h7v6h-7zM568 1043h7v7h-7zM582 1043h7v7h-7zM460 1050h20v7h-20zM575 1050h7v7h-7zM237 1057h6v7h-6zM453 1057h14v7h-14zM494 1057h7v7h-7zM521 1057h7v7h-7zM534 1057h7v7h-7zM555 1057h7v7h-7zM230 1064h34v6h-34zM453 1064h14v6h-14zM494 1064h7v6h-7zM514 1064h27v6h-27zM562 1064h6v6h-6zM230 1070h34v7h-34zM467 1070h7v7h-7zM507 1070h14v7h-14zM528 1070h6v7h-6zM257 1077h13v7h-13zM453 1077h27v7h-27zM514 1077h20v7h-20zM257 1084h20v7h-20zM453 1084h21v7h-21zM521 1084h7v7h-7zM277 1091h7v7h-7zM453 1091h7v7h-7zM250 1098h20v6h-20zM277 1098h7v6h-7zM304 1098h14v6h-14zM501 1098h6v6h-6zM237 1104h13v7h-13zM257 1104h41v7h-41zM304 1104h14v7h-14zM325 1104h20v7h-20zM453 1104h14v7h-14zM507 1104h14v7h-14zM237 1111h6v7h-6zM257 1111h34v7h-34zM311 1111h14v7h-14zM386 1111h6v7h-6zM453 1111h21v7h-21zM257 1118h34v7h-34zM338 1118h14v7h-14zM386 1118h13v7h-13zM453 1118h14v7h-14zM250 1125h27v6h-27zM298 1125h6v6h-6zM331 1125h27v6h-27zM392 1125h7v6h-7zM453 1125h7v6h-7zM257 1131h20v7h-20zM284 1131h14v7h-14zM325 1131h27v7h-27zM257 1138h13v7h-13zM291 1138h20v7h-20zM325 1138h6v7h-6zM345 1138h7v7h-7zM264 1145h13v7h-13zM291 1145h34v7h-34zM399 1145h7v7h-7zM264 1152h13v6h-13zM298 1152h33v6h-33zM338 1152h14v6h-14zM304 1158h7v7h-7zM318 1158h7v7h-7zM338 1158h7v7h-7zM250 1165h7v7h-7zM250 1172h7v7h-7zM243 1179h14v6h-14z"/>
<rect x="148.60" y="712.50" width="595.70" height="586.50" fill="none" stroke="#111" stroke-width="2.1"/>
<path d="M159.40 712.50v3.6M159.40 1299.00v-3.6M170.70 712.50v3.6M170.70 1299.00v-3.6M182.00 712.50v3.6M182.00 1299.00v-3.6M193.30 712.50v3.6M193.30 1299.00v-3.6M204.60 712.50v3.6M204.60 1299.00v-3.6M215.90 712.50v5.5M215.90 1299.00v-5.5M227.20 712.50v3.6M227.20 1299.00v-3.6M238.50 712.50v3.6M238.50 1299.00v-3.6M249.80 712.50v3.6M249.80 1299.00v-3.6M261.10 712.50v3.6M261.10 1299.00v-3.6M272.40 712.50v3.6M272.40 1299.00v-3.6M283.70 712.50v5.5M283.70 1299.00v-5.5M295.00 712.50v3.6M295.00 1299.00v-3.6M306.30 712.50v3.6M306.30 1299.00v-3.6M317.60 712.50v3.6M317.60 1299.00v-3.6M328.90 712.50v3.6M328.90 1299.00v-3.6M340.20 712.50v3.6M340.20 1299.00v-3.6M351.50 712.50v5.5M351.50 1299.00v-5.5M362.80 712.50v3.6M362.80 1299.00v-3.6M374.10 712.50v3.6M374.10 1299.00v-3.6M385.40 712.50v3.6M385.40 1299.00v-3.6M396.70 712.50v3.6M396.70 1299.00v-3.6M408.00 712.50v3.6M408.00 1299.00v-3.6M419.30 712.50v5.5M419.30 1299.00v-5.5M430.60 712.50v3.6M430.60 1299.00v-3.6M441.90 712.50v3.6M441.90 1299.00v-3.6M453.20 712.50v3.6M453.20 1299.00v-3.6M464.50 712.50v3.6M464.50 1299.00v-3.6M475.80 712.50v3.6M475.80 1299.00v-3.6M487.10 712.50v5.5M487.10 1299.00v-5.5M498.40 712.50v3.6M498.40 1299.00v-3.6M509.70 712.50v3.6M509.70 1299.00v-3.6M521.00 712.50v3.6M521.00 1299.00v-3.6M532.30 712.50v3.6M532.30 1299.00v-3.6M543.60 712.50v3.6M543.60 1299.00v-3.6M554.90 712.50v5.5M554.90 1299.00v-5.5M566.20 712.50v3.6M566.20 1299.00v-3.6M577.50 712.50v3.6M577.50 1299.00v-3.6M588.80 712.50v3.6M588.80 1299.00v-3.6M600.10 712.50v3.6M600.10 1299.00v-3.6M611.40 712.50v3.6M611.40 1299.00v-3.6M622.70 712.50v5.5M622.70 1299.00v-5.5M634.00 712.50v3.6M634.00 1299.00v-3.6M645.30 712.50v3.6M645.30 1299.00v-3.6M656.60 712.50v3.6M656.60 1299.00v-3.6M667.90 712.50v3.6M667.90 1299.00v-3.6M679.20 712.50v3.6M679.20 1299.00v-3.6M690.50 712.50v5.5M690.50 1299.00v-5.5M701.80 712.50v3.6M701.80 1299.00v-3.6M713.10 712.50v3.6M713.10 1299.00v-3.6M724.40 712.50v3.6M724.40 1299.00v-3.6M735.70 712.50v3.6M735.70 1299.00v-3.6M148.60 714.90h3.6M744.30 714.90h-3.6M148.60 726.20h3.6M744.30 726.20h-3.6M148.60 737.50h3.6M744.30 737.50h-3.6M148.60 748.80h3.6M744.30 748.80h-3.6M148.60 760.10h5.5M744.30 760.10h-5.5M148.60 771.40h3.6M744.30 771.40h-3.6M148.60 782.70h3.6M744.30 782.70h-3.6M148.60 794.00h3.6M744.30 794.00h-3.6M148.60 805.30h3.6M744.30 805.30h-3.6M148.60 816.60h3.6M744.30 816.60h-3.6M148.60 827.90h5.5M744.30 827.90h-5.5M148.60 839.20h3.6M744.30 839.20h-3.6M148.60 850.50h3.6M744.30 850.50h-3.6M148.60 861.80h3.6M744.30 861.80h-3.6M148.60 873.10h3.6M744.30 873.10h-3.6M148.60 884.40h3.6M744.30 884.40h-3.6M148.60 895.70h5.5M744.30 895.70h-5.5M148.60 907.00h3.6M744.30 907.00h-3.6M148.60 918.30h3.6M744.30 918.30h-3.6M148.60 929.60h3.6M744.30 929.60h-3.6M148.60 940.90h3.6M744.30 940.90h-3.6M148.60 952.20h3.6M744.30 952.20h-3.6M148.60 963.50h5.5M744.30 963.50h-5.5M148.60 974.80h3.6M744.30 974.80h-3.6M148.60 986.10h3.6M744.30 986.10h-3.6M148.60 997.40h3.6M744.30 997.40h-3.6M148.60 1008.70h3.6M744.30 1008.70h-3.6M148.60 1020.00h3.6M744.30 1020.00h-3.6M148.60 1031.30h5.5M744.30 1031.30h-5.5M148.60 1042.60h3.6M744.30 1042.60h-3.6M148.60 1053.90h3.6M744.30 1053.90h-3.6M148.60 1065.20h3.6M744.30 1065.20h-3.6M148.60 1076.50h3.6M744.30 1076.50h-3.6M148.60 1087.80h3.6M744.30 1087.80h-3.6M148.60 1099.10h5.5M744.30 1099.10h-5.5M148.60 1110.40h3.6M744.30 1110.40h-3.6M148.60 1121.70h3.6M744.30 1121.70h-3.6M148.60 1133.00h3.6M744.30 1133.00h-3.6M148.60 1144.30h3.6M744.30 1144.30h-3.6M148.60 1155.60h3.6M744.30 1155.60h-3.6M148.60 1166.90h5.5M744.30 1166.90h-5.5M148.60 1178.20h3.6M744.30 1178.20h-3.6M148.60 1189.50h3.6M744.30 1189.50h-3.6M148.60 1200.80h3.6M744.30 1200.80h-3.6M148.60 1212.10h3.6M744.30 1212.10h-3.6M148.60 1223.40h3.6M744.30 1223.40h-3.6M148.60 1234.70h5.5M744.30 1234.70h-5.5M148.60 1246.00h3.6M744.30 1246.00h-3.6M148.60 1257.30h3.6M744.30 1257.30h-3.6M148.60 1268.60h3.6M744.30 1268.60h-3.6M148.60 1279.90h3.6M744.30 1279.90h-3.6M148.60 1291.20h3.6M744.30 1291.20h-3.6" stroke="#111" stroke-width="1.6" fill="none"/>
<path shape-rendering="crispEdges" fill="#00f2f2" d="M966 781h6v7h-6zM1074 781h7v7h-7zM952 788h34v7h-34zM1074 788h7v7h-7zM966 795h20v7h-20zM979 802h34v6h-34zM932 808h7v7h-7zM999 808h14v7h-14zM1094 822h7v7h-7zM1108 829h20v6h-20zM1087 835h7v7h-7zM1121 835h7v7h-7zM1101 849h7v7h-7zM939 856h6v6h-6zM979 856h20v6h-20zM1013 856h14v6h-14zM1094 856h7v6h-7zM1108 856h13v6h-13zM1148 856h7v6h-7zM945 862h7v7h-7zM979 862h41v7h-41zM1094 862h7v7h-7zM1108 862h13v7h-13zM918 869h21v7h-21zM945 869h7v7h-7zM979 869h7v7h-7zM993 869h13v7h-13zM1040 869h34v7h-34zM1081 869h20v7h-20zM918 876h27v7h-27zM972 876h41v7h-41zM1027 876h6v7h-6zM1040 876h54v7h-54zM918 883h27v6h-27zM1013 883h68v6h-68zM1189 883h27v6h-27zM918 889h27v7h-27zM972 889h14v7h-14zM1020 889h20v7h-20zM1047 889h20v7h-20zM1189 889h41v7h-41zM918 896h27v7h-27zM972 896h7v7h-7zM1027 896h13v7h-13zM1047 896h20v7h-20zM1182 896h14v7h-14zM1203 896h33v7h-33zM1291 896h6v7h-6zM1311 896h20v7h-20zM1379 896h6v7h-6zM932 903h13v7h-13zM1033 903h7v7h-7zM1054 903h6v7h-6zM1101 903h7v7h-7zM1148 903h14v7h-14zM1182 903h14v7h-14zM1203 903h6v7h-6zM1216 903h27v7h-27zM1304 903h7v7h-7zM1331 903h14v7h-14zM1372 903h20v7h-20zM932 910h13v6h-13zM1020 910h13v6h-13zM1074 910h7v6h-7zM1101 910h7v6h-7zM1148 910h14v6h-14zM1196 910h47v6h-47zM1250 910h7v6h-7zM1291 910h6v6h-6zM1331 910h14v6h-14zM1351 910h14v6h-14zM1372 910h13v6h-13zM939 916h6v7h-6zM979 916h75v7h-75zM1067 916h14v7h-14zM1148 916h14v7h-14zM1182 916h7v7h-7zM1203 916h40v7h-40zM1257 916h6v7h-6zM1270 916h7v7h-7zM1291 916h6v7h-6zM1324 916h7v7h-7zM1351 916h14v7h-14zM1379 916h13v7h-13zM939 923h13v7h-13zM966 923h74v7h-74zM1047 923h20v7h-20zM1087 923h14v7h-14zM1128 923h7v7h-7zM1155 923h7v7h-7zM1175 923h7v7h-7zM1203 923h40v7h-40zM1257 923h47v7h-47zM1311 923h27v7h-27zM1358 923h14v7h-14zM1379 923h13v7h-13zM932 930h7v7h-7zM959 930h20v7h-20zM999 930h55v7h-55zM1060 930h7v7h-7zM1074 930h27v7h-27zM1115 930h13v7h-13zM1162 930h7v7h-7zM1209 930h27v7h-27zM1243 930h7v7h-7zM1257 930h94v7h-94zM939 937h6v7h-6zM959 937h20v7h-20zM999 937h102v7h-102zM1115 937h13v7h-13zM1216 937h14v7h-14zM1236 937h41v7h-41zM1284 937h67v7h-67zM966 944h101v6h-101zM1074 944h54v6h-54zM1223 944h47v6h-47zM1284 944h40v6h-40zM1338 944h13v6h-13zM1399 944h7v6h-7zM959 950h20v7h-20zM986 950h41v7h-41zM1033 950h7v7h-7zM1047 950h34v7h-34zM1087 950h7v7h-7zM1101 950h14v7h-14zM1121 950h7v7h-7zM1189 950h7v7h-7zM1209 950h7v7h-7zM1236 950h48v7h-48zM1291 950h20v7h-20zM1399 950h7v7h-7zM1433 950h7v7h-7zM959 957h7v7h-7zM986 957h27v7h-27zM1047 957h81v7h-81zM1189 957h7v7h-7zM1236 957h48v7h-48zM1291 957h20v7h-20zM1392 957h7v7h-7zM1433 957h7v7h-7zM959 964h7v7h-7zM993 964h20v7h-20zM1040 964h34v7h-34zM1081 964h20v7h-20zM1196 964h7v7h-7zM1216 964h14v7h-14zM1257 964h20v7h-20zM1284 964h27v7h-27zM1426 964h20v7h-20zM972 971h7v6h-7zM986 971h20v6h-20zM1013 971h7v6h-7zM1040 971h34v6h-34zM1081 971h27v6h-27zM1115 971h20v6h-20zM1263 971h7v6h-7zM1284 971h20v6h-20zM972 977h48v7h-48zM1033 977h61v7h-61zM1108 977h27v7h-27zM1155 977h20v7h-20zM1263 977h7v7h-7zM1277 977h7v7h-7zM1297 977h7v7h-7zM979 984h34v7h-34zM1033 984h7v7h-7zM1047 984h7v7h-7zM1081 984h20v7h-20zM1108 984h27v7h-27zM1155 984h14v7h-14zM1250 984h7v7h-7zM1277 984h7v7h-7zM1297 984h7v7h-7zM986 991h27v7h-27zM1033 991h7v7h-7zM1047 991h7v7h-7zM1067 991h7v7h-7zM1101 991h47v7h-47zM1297 991h14v7h-14zM1006 998h7v6h-7zM1060 998h7v6h-7zM1081 998h6v6h-6zM1094 998h7v6h-7zM1108 998h27v6h-27zM1311 998h7v6h-7zM1013 1004h7v7h-7zM1027 1004h33v7h-33zM1115 1004h20v7h-20zM1142 1004h6v7h-6zM1013 1011h7v7h-7zM1027 1011h33v7h-33zM1108 1011h13v7h-13zM1142 1011h6v7h-6zM1013 1018h7v7h-7zM1027 1018h20v7h-20zM1054 1018h6v7h-6zM1108 1018h13v7h-13zM1230 1018h6v7h-6zM1284 1018h7v7h-7zM1006 1025h21v6h-21zM1101 1025h20v6h-20zM1209 1025h21v6h-21zM1006 1031h21v7h-21zM1047 1031h13v7h-13zM1209 1031h21v7h-21zM1257 1031h6v7h-6zM1270 1031h7v7h-7zM999 1038h21v7h-21zM1040 1038h27v7h-27zM1216 1038h7v7h-7zM1263 1038h7v7h-7zM1006 1045h27v7h-27zM1047 1045h27v7h-27zM1203 1045h6v7h-6zM1216 1045h7v7h-7zM1250 1045h41v7h-41zM979 1052h14v6h-14zM999 1052h34v6h-34zM1054 1052h27v6h-27zM1250 1052h34v6h-34zM986 1058h47v7h-47zM1040 1058h14v7h-14zM1067 1058h14v7h-14zM1250 1058h47v7h-47zM986 1065h7v7h-7zM999 1065h14v7h-14zM1040 1065h14v7h-14zM1067 1065h7v7h-7zM1135 1065h7v7h-7zM1250 1065h41v7h-41zM986 1072h7v7h-7zM1027 1072h40v7h-40zM1257 1072h13v7h-13zM1277 1072h7v7h-7zM993 1079h6v7h-6zM1006 1079h14v7h-14zM1027 1079h6v7h-6zM1047 1079h27v7h-27zM1121 1079h7v7h-7zM1148 1079h7v7h-7zM1243 1079h20v7h-20zM1277 1079h7v7h-7zM993 1086h6v6h-6zM1006 1086h68v6h-68zM1243 1086h20v6h-20zM993 1092h27v7h-27zM1027 1092h13v7h-13zM1243 1092h14v7h-14zM1277 1092h7v7h-7zM999 1099h7v7h-7zM1020 1099h7v7h-7zM1203 1099h6v7h-6zM1216 1099h7v7h-7zM1230 1099h6v7h-6zM1243 1099h14v7h-14zM1230 1106h6v7h-6zM1243 1106h14v7h-14zM1033 1113h14v6h-14zM1033 1119h21v7h-21zM1006 1126h21v7h-21zM1040 1126h20v7h-20zM1006 1133h14v7h-14zM1040 1133h14v7h-14zM993 1140h6v6h-6zM1006 1140h7v6h-7zM1040 1140h14v6h-14zM1047 1146h20v7h-20zM1033 1153h48v7h-48zM1101 1153h7v7h-7zM1121 1153h14v7h-14zM1006 1160h7v7h-7zM1020 1160h13v7h-13zM1040 1160h47v7h-47zM1006 1167h7v6h-7zM1033 1167h54v6h-54zM1047 1173h7v7h-7zM1060 1173h34v7h-34zM1040 1180h7v7h-7zM1054 1180h13v7h-13zM1081 1180h13v7h-13zM1033 1187h7v7h-7zM1006 1194h7v6h-7zM1013 1214h27v7h-27zM1040 1227h7v7h-7zM1033 1234h7v7h-7z"/>
<path shape-rendering="crispEdges" fill="#3d8eea" d="M1067 775h20v6h-20zM972 781h14v7h-14zM1047 781h7v7h-7zM1067 781h7v7h-7zM1081 781h6v7h-6zM986 788h7v7h-7zM999 788h14v7h-14zM1081 788h13v7h-13zM939 795h27v7h-27zM986 795h27v7h-27zM1054 795h6v7h-6zM1074 795h20v7h-20zM932 802h13v6h-13zM959 802h20v6h-20zM1013 802h7v6h-7zM1074 802h20v6h-20zM939 808h13v7h-13zM972 808h27v7h-27zM1013 808h7v7h-7zM1081 808h20v7h-20zM932 815h13v7h-13zM959 815h7v7h-7zM979 815h48v7h-48zM1081 815h20v7h-20zM918 822h14v7h-14zM945 822h27v7h-27zM979 822h7v7h-7zM1013 822h27v7h-27zM1074 822h20v7h-20zM1101 822h20v7h-20zM918 829h7v6h-7zM959 829h7v6h-7zM972 829h7v6h-7zM1040 829h27v6h-27zM1074 829h34v6h-34zM918 835h14v7h-14zM979 835h14v7h-14zM1020 835h20v7h-20zM1047 835h7v7h-7zM1081 835h6v7h-6zM1094 835h7v7h-7zM1108 835h13v7h-13zM1128 835h7v7h-7zM925 842h27v7h-27zM979 842h27v7h-27zM1020 842h7v7h-7zM1087 842h14v7h-14zM1115 842h20v7h-20zM918 849h41v7h-41zM972 849h41v7h-41zM1020 849h13v7h-13zM1081 849h20v7h-20zM1108 849h34v7h-34zM918 856h21v6h-21zM945 856h34v6h-34zM1006 856h7v6h-7zM1040 856h20v6h-20zM1081 856h13v6h-13zM1101 856h7v6h-7zM1121 856h14v6h-14zM1142 856h6v6h-6zM1155 856h7v6h-7zM918 862h7v7h-7zM932 862h13v7h-13zM952 862h20v7h-20zM1020 862h13v7h-13zM1047 862h20v7h-20zM1081 862h13v7h-13zM1101 862h7v7h-7zM1121 862h41v7h-41zM939 869h6v7h-6zM952 869h7v7h-7zM966 869h13v7h-13zM986 869h7v7h-7zM1006 869h14v7h-14zM1027 869h13v7h-13zM1074 869h7v7h-7zM1101 869h54v7h-54zM1169 869h6v7h-6zM1182 869h7v7h-7zM945 876h7v7h-7zM959 876h13v7h-13zM1013 876h14v7h-14zM1033 876h7v7h-7zM1094 876h41v7h-41zM1142 876h6v7h-6zM1189 876h14v7h-14zM945 883h34v6h-34zM986 883h27v6h-27zM1081 883h20v6h-20zM1128 883h20v6h-20zM1175 883h14v6h-14zM1311 883h13v6h-13zM1331 883h14v6h-14zM945 889h27v7h-27zM986 889h7v7h-7zM999 889h7v7h-7zM1013 889h7v7h-7zM1040 889h7v7h-7zM1067 889h27v7h-27zM1108 889h7v7h-7zM1135 889h7v7h-7zM1148 889h7v7h-7zM1175 889h14v7h-14zM1304 889h47v7h-47zM945 896h27v7h-27zM979 896h7v7h-7zM1040 896h7v7h-7zM1067 896h20v7h-20zM1101 896h14v7h-14zM1148 896h14v7h-14zM1169 896h13v7h-13zM1196 896h7v7h-7zM1297 896h14v7h-14zM1331 896h27v7h-27zM1365 896h14v7h-14zM925 903h7v7h-7zM945 903h7v7h-7zM966 903h20v7h-20zM993 903h20v7h-20zM1020 903h13v7h-13zM1040 903h14v7h-14zM1060 903h41v7h-41zM1108 903h7v7h-7zM1135 903h13v7h-13zM1162 903h20v7h-20zM1196 903h7v7h-7zM1209 903h7v7h-7zM1243 903h7v7h-7zM1291 903h13v7h-13zM1311 903h20v7h-20zM1345 903h27v7h-27zM925 910h7v6h-7zM945 910h14v6h-14zM966 910h20v6h-20zM993 910h27v6h-27zM1033 910h41v6h-41zM1081 910h20v6h-20zM1108 910h27v6h-27zM1142 910h6v6h-6zM1162 910h34v6h-34zM1243 910h7v6h-7zM1257 910h6v6h-6zM1297 910h34v6h-34zM1345 910h6v6h-6zM1365 910h7v6h-7zM1385 910h14v6h-14zM925 916h14v7h-14zM945 916h14v7h-14zM966 916h13v7h-13zM1054 916h13v7h-13zM1081 916h67v7h-67zM1162 916h20v7h-20zM1189 916h14v7h-14zM1243 916h14v7h-14zM1263 916h7v7h-7zM1297 916h27v7h-27zM1331 916h7v7h-7zM1345 916h6v7h-6zM1365 916h14v7h-14zM1392 916h14v7h-14zM932 923h7v7h-7zM952 923h14v7h-14zM1040 923h7v7h-7zM1067 923h20v7h-20zM1101 923h27v7h-27zM1148 923h7v7h-7zM1162 923h13v7h-13zM1182 923h21v7h-21zM1243 923h14v7h-14zM1304 923h7v7h-7zM1338 923h20v7h-20zM1372 923h7v7h-7zM1392 923h20v7h-20zM939 930h13v7h-13zM979 930h20v7h-20zM1054 930h6v7h-6zM1067 930h7v7h-7zM1101 930h14v7h-14zM1128 930h7v7h-7zM1148 930h14v7h-14zM1169 930h27v7h-27zM1203 930h6v7h-6zM1236 930h7v7h-7zM1250 930h7v7h-7zM1351 930h55v7h-55zM1412 930h7v7h-7zM945 937h7v7h-7zM979 937h20v7h-20zM1101 937h14v7h-14zM1128 937h7v7h-7zM1162 937h7v7h-7zM1175 937h7v7h-7zM1209 937h7v7h-7zM1230 937h6v7h-6zM1277 937h7v7h-7zM1351 937h21v7h-21zM1385 937h7v7h-7zM1399 937h13v7h-13zM945 944h7v6h-7zM959 944h7v6h-7zM1067 944h7v6h-7zM1128 944h7v6h-7zM1175 944h48v6h-48zM1270 944h14v6h-14zM1324 944h14v6h-14zM1351 944h21v6h-21zM1385 944h14v6h-14zM1406 944h6v6h-6zM952 950h7v7h-7zM979 950h7v7h-7zM1027 950h6v7h-6zM1040 950h7v7h-7zM1081 950h6v7h-6zM1094 950h7v7h-7zM1115 950h6v7h-6zM1175 950h14v7h-14zM1196 950h13v7h-13zM1216 950h20v7h-20zM1284 950h7v7h-7zM1318 950h6v7h-6zM1338 950h34v7h-34zM1385 950h14v7h-14zM1406 950h6v7h-6zM952 957h7v7h-7zM966 957h20v7h-20zM1013 957h34v7h-34zM1128 957h7v7h-7zM1169 957h20v7h-20zM1196 957h40v7h-40zM1284 957h7v7h-7zM1311 957h13v7h-13zM1345 957h47v7h-47zM1399 957h13v7h-13zM1426 957h7v7h-7zM966 964h27v7h-27zM1013 964h27v7h-27zM1074 964h7v7h-7zM1101 964h34v7h-34zM1169 964h6v7h-6zM1182 964h7v7h-7zM1203 964h13v7h-13zM1230 964h27v7h-27zM1277 964h7v7h-7zM1311 964h13v7h-13zM1338 964h47v7h-47zM1392 964h27v7h-27zM966 971h6v6h-6zM979 971h7v6h-7zM1020 971h20v6h-20zM1074 971h7v6h-7zM1108 971h7v6h-7zM1135 971h7v6h-7zM1148 971h27v6h-27zM1182 971h14v6h-14zM1209 971h54v6h-54zM1270 971h14v6h-14zM1304 971h7v6h-7zM1345 971h6v6h-6zM1358 971h7v6h-7zM1372 971h7v6h-7zM1392 971h7v6h-7zM1406 971h13v6h-13zM1426 971h14v6h-14zM966 977h6v7h-6zM1020 977h13v7h-13zM1094 977h14v7h-14zM1135 977h20v7h-20zM1175 977h7v7h-7zM1223 977h40v7h-40zM1270 977h7v7h-7zM1284 977h13v7h-13zM1304 977h20v7h-20zM1365 977h14v7h-14zM1392 977h34v7h-34zM972 984h7v7h-7zM1013 984h7v7h-7zM1027 984h6v7h-6zM1040 984h7v7h-7zM1054 984h27v7h-27zM1101 984h7v7h-7zM1135 984h20v7h-20zM1169 984h20v7h-20zM1243 984h7v7h-7zM1257 984h20v7h-20zM1284 984h13v7h-13zM1304 984h14v7h-14zM1358 984h27v7h-27zM1406 984h13v7h-13zM972 991h14v7h-14zM1013 991h7v7h-7zM1040 991h7v7h-7zM1054 991h13v7h-13zM1074 991h27v7h-27zM1148 991h41v7h-41zM1203 991h6v7h-6zM1216 991h7v7h-7zM1236 991h21v7h-21zM1270 991h27v7h-27zM1311 991h13v7h-13zM1358 991h27v7h-27zM1406 991h6v7h-6zM979 998h27v6h-27zM1013 998h7v6h-7zM1027 998h6v6h-6zM1040 998h20v6h-20zM1067 998h14v6h-14zM1087 998h7v6h-7zM1101 998h7v6h-7zM1135 998h54v6h-54zM1209 998h7v6h-7zM1243 998h14v6h-14zM1270 998h7v6h-7zM1291 998h20v6h-20zM1365 998h7v6h-7zM1392 998h14v6h-14zM979 1004h34v7h-34zM1067 1004h20v7h-20zM1094 1004h21v7h-21zM1135 1004h7v7h-7zM1148 1004h27v7h-27zM1189 1004h7v7h-7zM1209 1004h14v7h-14zM1243 1004h7v7h-7zM1284 1004h13v7h-13zM1304 1004h14v7h-14zM1351 1004h7v7h-7zM1365 1004h7v7h-7zM1392 1004h7v7h-7zM986 1011h7v7h-7zM999 1011h14v7h-14zM1060 1011h7v7h-7zM1074 1011h34v7h-34zM1121 1011h21v7h-21zM1155 1011h7v7h-7zM1209 1011h41v7h-41zM1257 1011h6v7h-6zM1277 1011h20v7h-20zM1311 1011h7v7h-7zM1345 1011h6v7h-6zM1379 1011h13v7h-13zM999 1018h14v7h-14zM1020 1018h7v7h-7zM1047 1018h7v7h-7zM1067 1018h41v7h-41zM1128 1018h20v7h-20zM1155 1018h7v7h-7zM1209 1018h21v7h-21zM1277 1018h7v7h-7zM1291 1018h6v7h-6zM1365 1018h7v7h-7zM993 1025h13v6h-13zM1027 1025h13v6h-13zM1047 1025h13v6h-13zM1067 1025h7v6h-7zM1081 1025h20v6h-20zM1121 1025h27v6h-27zM1230 1025h6v6h-6zM1277 1025h20v6h-20zM986 1031h20v7h-20zM1027 1031h6v7h-6zM1040 1031h7v7h-7zM1060 1031h27v7h-27zM1094 1031h27v7h-27zM1135 1031h7v7h-7zM1284 1031h47v7h-47zM979 1038h20v7h-20zM1020 1038h13v7h-13zM1067 1038h20v7h-20zM1115 1038h6v7h-6zM1203 1038h13v7h-13zM1223 1038h13v7h-13zM1250 1038h13v7h-13zM1277 1038h14v7h-14zM1297 1038h14v7h-14zM1318 1038h6v7h-6zM986 1045h20v7h-20zM1033 1045h14v7h-14zM1148 1045h14v7h-14zM1169 1045h6v7h-6zM1182 1045h21v7h-21zM1209 1045h7v7h-7zM1223 1045h7v7h-7zM1243 1045h7v7h-7zM1291 1045h20v7h-20zM1318 1045h13v7h-13zM993 1052h6v6h-6zM1033 1052h21v6h-21zM1081 1052h6v6h-6zM1155 1052h34v6h-34zM1196 1052h13v6h-13zM1216 1052h7v6h-7zM1230 1052h20v6h-20zM1284 1052h27v6h-27zM979 1058h7v7h-7zM1033 1058h7v7h-7zM1054 1058h13v7h-13zM1081 1058h6v7h-6zM1135 1058h13v7h-13zM1189 1058h14v7h-14zM1230 1058h13v7h-13zM1297 1058h21v7h-21zM979 1065h7v7h-7zM993 1065h6v7h-6zM1013 1065h27v7h-27zM1054 1065h13v7h-13zM1074 1065h7v7h-7zM1128 1065h7v7h-7zM1142 1065h6v7h-6zM1175 1065h7v7h-7zM1189 1065h7v7h-7zM1236 1065h14v7h-14zM1291 1065h27v7h-27zM979 1072h7v7h-7zM993 1072h20v7h-20zM1020 1072h7v7h-7zM1067 1072h14v7h-14zM1121 1072h21v7h-21zM1236 1072h21v7h-21zM1284 1072h27v7h-27zM986 1079h7v7h-7zM999 1079h7v7h-7zM1020 1079h7v7h-7zM1033 1079h14v7h-14zM1081 1079h6v7h-6zM1128 1079h14v7h-14zM1175 1079h14v7h-14zM1236 1079h7v7h-7zM1263 1079h14v7h-14zM1284 1079h20v7h-20zM979 1086h14v6h-14zM999 1086h7v6h-7zM1074 1086h7v6h-7zM1135 1086h7v6h-7zM1175 1086h14v6h-14zM1203 1086h27v6h-27zM1236 1086h7v6h-7zM1263 1086h28v6h-28zM979 1092h14v7h-14zM1020 1092h7v7h-7zM1040 1092h41v7h-41zM1175 1092h7v7h-7zM1189 1092h54v7h-54zM1257 1092h20v7h-20zM979 1099h7v7h-7zM993 1099h6v7h-6zM1006 1099h14v7h-14zM1027 1099h6v7h-6zM1040 1099h14v7h-14zM1060 1099h7v7h-7zM1074 1099h7v7h-7zM1155 1099h7v7h-7zM1169 1099h6v7h-6zM1209 1099h7v7h-7zM1236 1099h7v7h-7zM1257 1099h13v7h-13zM986 1106h13v7h-13zM1020 1106h7v7h-7zM1033 1106h7v7h-7zM1203 1106h13v7h-13zM1236 1106h7v7h-7zM1257 1106h13v7h-13zM986 1113h13v6h-13zM1027 1113h6v6h-6zM1047 1113h7v6h-7zM1060 1113h7v6h-7zM1236 1113h27v6h-27zM986 1119h47v7h-47zM1054 1119h6v7h-6zM1182 1119h7v7h-7zM1196 1119h20v7h-20zM1236 1119h14v7h-14zM986 1126h20v7h-20zM1027 1126h13v7h-13zM1060 1126h7v7h-7zM1135 1126h7v7h-7zM1209 1126h21v7h-21zM986 1133h20v7h-20zM1020 1133h7v7h-7zM1054 1133h13v7h-13zM1094 1133h7v7h-7zM1148 1133h7v7h-7zM1209 1133h21v7h-21zM986 1140h7v6h-7zM999 1140h7v6h-7zM1013 1140h27v6h-27zM1054 1140h27v6h-27zM1115 1140h20v6h-20zM1142 1140h13v6h-13zM1189 1140h7v6h-7zM1209 1140h7v6h-7zM986 1146h54v7h-54zM1067 1146h14v7h-14zM1108 1146h47v7h-47zM1182 1146h14v7h-14zM993 1153h20v7h-20zM1020 1153h13v7h-13zM1081 1153h13v7h-13zM1108 1153h13v7h-13zM1135 1153h13v7h-13zM1175 1153h14v7h-14zM999 1160h7v7h-7zM1013 1160h7v7h-7zM1033 1160h7v7h-7zM1087 1160h55v7h-55zM999 1167h7v6h-7zM1013 1167h20v6h-20zM1087 1167h28v6h-28zM993 1173h13v7h-13zM1013 1173h7v7h-7zM1027 1173h20v7h-20zM1054 1173h6v7h-6zM1094 1173h14v7h-14zM1020 1180h20v7h-20zM1047 1180h7v7h-7zM1094 1180h7v7h-7zM999 1187h14v7h-14zM1027 1187h6v7h-6zM1040 1187h27v7h-27zM993 1194h13v6h-13zM1033 1194h7v6h-7zM1047 1194h13v6h-13zM993 1200h20v7h-20zM1020 1200h13v7h-13zM999 1207h41v7h-41zM1060 1207h7v7h-7zM999 1214h14v7h-14zM1040 1214h7v7h-7zM999 1221h48v6h-48zM1006 1227h34v7h-34zM1047 1227h20v7h-20zM1006 1234h7v7h-7zM1040 1234h20v7h-20zM1033 1241h14v7h-14zM1060 1241h14v7h-14zM1040 1248h14v6h-14z"/>
<path shape-rendering="crispEdges" fill="#25d47f" d="M1040 768h41v7h-41zM979 775h7v6h-7zM1047 775h20v6h-20zM999 781h7v7h-7zM1054 781h13v7h-13zM993 788h6v7h-6zM1013 788h7v7h-7zM1047 788h13v7h-13zM1067 788h7v7h-7zM1013 795h14v7h-14zM1040 795h14v7h-14zM1067 795h7v7h-7zM945 802h14v6h-14zM1020 802h13v6h-13zM1047 802h13v6h-13zM959 808h13v7h-13zM1020 808h34v7h-34zM1074 808h7v7h-7zM925 815h7v7h-7zM945 815h14v7h-14zM966 815h6v7h-6zM1027 815h20v7h-20zM1074 815h7v7h-7zM932 822h7v7h-7zM972 822h7v7h-7zM993 822h6v7h-6zM1006 822h7v7h-7zM1040 822h7v7h-7zM952 829h7v6h-7zM966 829h6v6h-6zM986 829h7v6h-7zM1006 829h27v6h-27zM1067 829h7v6h-7zM932 835h13v7h-13zM993 835h6v7h-6zM1040 835h7v7h-7zM1054 835h6v7h-6zM1067 835h14v7h-14zM1101 835h7v7h-7zM918 842h7v7h-7zM952 842h7v7h-7zM972 842h7v7h-7zM1013 842h7v7h-7zM1027 842h13v7h-13zM1081 842h6v7h-6zM1101 842h14v7h-14zM959 849h7v7h-7zM1013 849h7v7h-7zM1033 849h27v7h-27zM1074 849h7v7h-7zM1142 849h6v7h-6zM999 856h7v6h-7zM1027 856h6v6h-6zM1067 856h14v6h-14zM1135 856h7v6h-7zM925 862h7v7h-7zM972 862h7v7h-7zM1033 862h14v7h-14zM1067 862h14v7h-14zM1169 862h6v7h-6zM959 869h7v7h-7zM1020 869h7v7h-7zM1155 869h7v7h-7zM1175 869h7v7h-7zM952 876h7v7h-7zM1135 876h7v7h-7zM1182 876h7v7h-7zM1331 876h7v7h-7zM979 883h7v6h-7zM1115 883h13v6h-13zM1148 883h7v6h-7zM1169 883h6v6h-6zM1304 883h7v6h-7zM993 889h6v7h-6zM1006 889h7v7h-7zM1101 889h7v7h-7zM1115 889h13v7h-13zM1142 889h6v7h-6zM1155 889h7v7h-7zM1169 889h6v7h-6zM1297 889h7v7h-7zM999 896h28v7h-28zM1087 896h14v7h-14zM1115 896h13v7h-13zM1135 896h7v7h-7zM1162 896h7v7h-7zM1358 896h7v7h-7zM952 903h14v7h-14zM986 903h7v7h-7zM1013 903h7v7h-7zM1121 903h14v7h-14zM959 910h7v6h-7zM986 910h7v6h-7zM1135 910h7v6h-7zM1338 916h7v7h-7zM1135 923h7v7h-7zM952 930h7v7h-7zM1135 930h13v7h-13zM1196 930h7v7h-7zM1406 930h6v7h-6zM952 937h7v7h-7zM1135 937h7v7h-7zM1155 937h7v7h-7zM1169 937h6v7h-6zM1182 937h14v7h-14zM1203 937h6v7h-6zM1372 937h13v7h-13zM1392 937h7v7h-7zM1412 937h7v7h-7zM952 944h7v6h-7zM1169 944h6v6h-6zM1372 944h7v6h-7zM1412 944h7v6h-7zM1426 944h7v6h-7zM1128 950h7v7h-7zM1162 950h7v7h-7zM1311 950h7v7h-7zM1324 950h14v7h-14zM1372 950h7v7h-7zM1419 950h14v7h-14zM1324 957h7v7h-7zM1338 957h7v7h-7zM1155 964h7v7h-7zM1175 964h7v7h-7zM1189 964h7v7h-7zM1324 964h7v7h-7zM1385 964h7v7h-7zM1419 964h7v7h-7zM1006 971h7v6h-7zM1142 971h6v6h-6zM1175 971h7v6h-7zM1196 971h7v6h-7zM1311 971h7v6h-7zM1338 971h7v6h-7zM1385 971h7v6h-7zM1399 971h7v6h-7zM1419 971h7v6h-7zM1182 977h14v7h-14zM1345 977h20v7h-20zM1379 977h13v7h-13zM1020 984h7v7h-7zM1189 984h7v7h-7zM1203 984h6v7h-6zM1236 984h7v7h-7zM1318 984h6v7h-6zM1385 984h7v7h-7zM1399 984h7v7h-7zM1020 991h13v7h-13zM1209 991h7v7h-7zM1257 991h13v7h-13zM1385 991h14v7h-14zM1020 998h7v6h-7zM1033 998h7v6h-7zM1189 998h20v6h-20zM1216 998h14v6h-14zM1257 998h6v6h-6zM1277 998h14v6h-14zM1318 998h6v6h-6zM1338 998h27v6h-27zM1372 998h7v6h-7zM1385 998h7v6h-7zM1020 1004h7v7h-7zM1060 1004h7v7h-7zM1087 1004h7v7h-7zM1175 1004h14v7h-14zM1196 1004h13v7h-13zM1223 1004h7v7h-7zM1236 1004h7v7h-7zM1250 1004h13v7h-13zM1297 1004h7v7h-7zM1358 1004h7v7h-7zM1385 1004h7v7h-7zM979 1011h7v7h-7zM993 1011h6v7h-6zM1020 1011h7v7h-7zM1067 1011h7v7h-7zM1148 1011h7v7h-7zM1162 1011h13v7h-13zM1182 1011h27v7h-27zM1250 1011h7v7h-7zM1263 1011h14v7h-14zM1297 1011h14v7h-14zM1318 1011h6v7h-6zM1331 1011h14v7h-14zM1351 1011h28v7h-28zM986 1018h13v7h-13zM1060 1018h7v7h-7zM1121 1018h7v7h-7zM1148 1018h7v7h-7zM1175 1018h14v7h-14zM1236 1018h27v7h-27zM1270 1018h7v7h-7zM1304 1018h14v7h-14zM1345 1018h13v7h-13zM1040 1025h7v6h-7zM1060 1025h7v6h-7zM1074 1025h7v6h-7zM1175 1025h21v6h-21zM1203 1025h6v6h-6zM1236 1025h7v6h-7zM1250 1025h27v6h-27zM1311 1025h13v6h-13zM1358 1025h7v6h-7zM979 1031h7v7h-7zM1033 1031h7v7h-7zM1087 1031h7v7h-7zM1121 1031h14v7h-14zM1142 1031h6v7h-6zM1203 1031h6v7h-6zM1230 1031h13v7h-13zM1250 1031h7v7h-7zM1263 1031h7v7h-7zM1277 1031h7v7h-7zM1094 1038h21v7h-21zM1121 1038h34v7h-34zM1169 1038h6v7h-6zM1189 1038h14v7h-14zM1236 1038h14v7h-14zM1270 1038h7v7h-7zM1291 1038h6v7h-6zM1311 1038h7v7h-7zM1324 1038h7v7h-7zM979 1045h7v7h-7zM1074 1045h7v7h-7zM1101 1045h7v7h-7zM1135 1045h13v7h-13zM1162 1045h7v7h-7zM1230 1045h13v7h-13zM1311 1045h7v7h-7zM1087 1052h7v6h-7zM1108 1052h13v6h-13zM1142 1052h13v6h-13zM1189 1052h7v6h-7zM1209 1052h7v6h-7zM1223 1052h7v6h-7zM1311 1052h7v6h-7zM1324 1052h7v6h-7zM1101 1058h20v7h-20zM1128 1058h7v7h-7zM1148 1058h7v7h-7zM1162 1058h20v7h-20zM1223 1058h7v7h-7zM1243 1058h7v7h-7zM972 1065h7v7h-7zM1081 1065h6v7h-6zM1121 1065h7v7h-7zM1182 1065h7v7h-7zM1196 1065h7v7h-7zM1230 1065h6v7h-6zM1013 1072h7v7h-7zM1094 1072h7v7h-7zM1142 1072h6v7h-6zM1175 1072h14v7h-14zM1209 1072h7v7h-7zM1230 1072h6v7h-6zM1270 1072h7v7h-7zM979 1079h7v7h-7zM1142 1079h6v7h-6zM1169 1079h6v7h-6zM1196 1079h7v7h-7zM1209 1079h7v7h-7zM1230 1079h6v7h-6zM1081 1086h13v6h-13zM1121 1086h14v6h-14zM1162 1086h13v6h-13zM1196 1086h7v6h-7zM1230 1086h6v6h-6zM1081 1092h13v7h-13zM1101 1092h7v7h-7zM1121 1092h7v7h-7zM1169 1092h6v7h-6zM986 1099h7v7h-7zM1033 1099h7v7h-7zM1054 1099h6v7h-6zM1162 1099h7v7h-7zM1175 1099h7v7h-7zM1189 1099h14v7h-14zM1223 1099h7v7h-7zM999 1106h7v7h-7zM1027 1106h6v7h-6zM1047 1106h13v7h-13zM1067 1106h20v7h-20zM1155 1106h7v7h-7zM1175 1106h7v7h-7zM1223 1106h7v7h-7zM999 1113h28v6h-28zM1054 1113h6v6h-6zM1074 1113h7v6h-7zM1162 1113h7v6h-7zM1196 1113h13v6h-13zM1216 1113h7v6h-7zM1230 1113h6v6h-6zM1060 1119h14v7h-14zM1169 1119h6v7h-6zM1067 1126h14v7h-14zM1155 1126h14v7h-14zM1196 1126h13v7h-13zM1230 1126h6v7h-6zM1027 1133h13v7h-13zM1067 1133h14v7h-14zM1101 1133h7v7h-7zM1121 1133h7v7h-7zM1142 1133h6v7h-6zM1162 1133h7v7h-7zM1203 1133h6v7h-6zM1094 1140h7v6h-7zM1108 1140h7v6h-7zM1155 1140h20v6h-20zM1182 1140h7v6h-7zM1203 1140h6v6h-6zM1040 1146h7v7h-7zM1081 1146h6v7h-6zM1094 1146h14v7h-14zM1155 1146h7v7h-7zM1175 1146h7v7h-7zM1196 1146h7v7h-7zM1013 1153h7v7h-7zM1094 1153h7v7h-7zM1148 1153h14v7h-14zM993 1160h6v7h-6zM993 1167h6v6h-6zM1006 1173h7v7h-7zM1020 1173h7v7h-7zM1108 1173h7v7h-7zM993 1180h27v7h-27zM1013 1187h14v7h-14zM1013 1194h20v6h-20zM1040 1194h7v6h-7zM1060 1194h7v6h-7zM1013 1200h7v7h-7zM1033 1200h27v7h-27zM1040 1207h7v7h-7zM1054 1207h6v7h-6zM1054 1214h6v7h-6zM1047 1221h27v6h-27zM1067 1227h7v7h-7zM1013 1234h7v7h-7zM1027 1234h6v7h-6zM1060 1234h14v7h-14zM1047 1241h7v7h-7zM1054 1248h6v6h-6zM1067 1248h7v6h-7zM1047 1254h13v7h-13z"/>
<path shape-rendering="crispEdges" fill="#f5e11c" d="M993 768h6v7h-6zM1013 768h27v7h-27zM993 775h6v6h-6zM1013 775h14v6h-14zM1033 775h7v6h-7zM986 781h13v7h-13zM1006 781h14v7h-14zM1027 781h6v7h-6zM1040 781h7v7h-7zM1033 788h14v7h-14zM1060 788h7v7h-7zM1027 795h6v7h-6zM1060 795h7v7h-7zM1033 802h14v6h-14zM1067 802h7v6h-7zM952 808h7v7h-7zM1054 808h13v7h-13zM972 815h7v7h-7zM1047 815h27v7h-27zM939 822h6v7h-6zM986 822h7v7h-7zM999 822h7v7h-7zM1047 822h27v7h-27zM925 829h7v6h-7zM939 829h13v6h-13zM979 829h7v6h-7zM993 829h6v6h-6zM945 835h34v7h-34zM999 835h7v7h-7zM1013 835h7v7h-7zM1060 835h7v7h-7zM959 842h7v7h-7zM1006 842h7v7h-7zM1040 842h20v7h-20zM1067 842h14v7h-14zM966 849h6v7h-6zM1060 849h7v7h-7zM1060 856h7v6h-7zM1162 862h7v7h-7zM1162 869h7v7h-7zM1148 876h34v7h-34zM1101 883h14v6h-14zM1162 883h7v6h-7zM1297 883h7v6h-7zM1324 883h7v6h-7zM1345 883h6v6h-6zM1094 889h7v7h-7zM1128 889h7v7h-7zM1162 889h7v7h-7zM1351 889h14v7h-14zM986 896h13v7h-13zM1128 896h7v7h-7zM1142 896h6v7h-6zM959 916h7v7h-7zM1142 923h6v7h-6zM1142 937h6v7h-6zM1196 937h7v7h-7zM1419 937h7v7h-7zM1135 944h7v6h-7zM1155 944h14v6h-14zM1379 944h6v6h-6zM1135 950h7v7h-7zM1155 950h7v7h-7zM1169 950h6v7h-6zM1379 950h6v7h-6zM1412 950h7v7h-7zM1135 957h7v7h-7zM1155 957h14v7h-14zM1331 957h7v7h-7zM1412 957h14v7h-14zM1135 964h7v7h-7zM1148 964h7v7h-7zM1162 964h7v7h-7zM1331 964h7v7h-7zM1203 971h6v6h-6zM1318 971h20v6h-20zM1351 971h7v6h-7zM1365 971h7v6h-7zM1379 971h6v6h-6zM1203 977h20v7h-20zM1324 977h7v7h-7zM1196 984h7v7h-7zM1223 984h13v7h-13zM1324 984h14v7h-14zM1345 984h13v7h-13zM1392 984h7v7h-7zM1189 991h7v7h-7zM1223 991h13v7h-13zM1324 991h7v7h-7zM1338 991h20v7h-20zM1399 991h7v7h-7zM1230 998h13v6h-13zM1263 998h7v6h-7zM1331 998h7v6h-7zM1379 998h6v6h-6zM1230 1004h6v7h-6zM1263 1004h21v7h-21zM1318 1004h6v7h-6zM1331 1004h20v7h-20zM1372 1004h13v7h-13zM1175 1011h7v7h-7zM972 1018h14v7h-14zM1169 1018h6v7h-6zM1203 1018h6v7h-6zM1263 1018h7v7h-7zM1297 1018h7v7h-7zM1318 1018h27v7h-27zM1358 1018h7v7h-7zM972 1025h21v6h-21zM1148 1025h14v6h-14zM1169 1025h6v6h-6zM1243 1025h7v6h-7zM1297 1025h14v6h-14zM1324 1025h34v6h-34zM972 1031h7v7h-7zM1148 1031h7v7h-7zM1162 1031h7v7h-7zM1243 1031h7v7h-7zM1331 1031h7v7h-7zM1345 1031h6v7h-6zM1033 1038h7v7h-7zM1087 1038h7v7h-7zM1155 1038h14v7h-14zM1175 1038h14v7h-14zM1331 1038h14v7h-14zM1081 1045h20v7h-20zM1108 1045h27v7h-27zM1175 1045h7v7h-7zM1331 1045h7v7h-7zM1094 1052h14v6h-14zM1121 1052h21v6h-21zM1318 1052h6v6h-6zM972 1058h7v7h-7zM1087 1058h14v7h-14zM1121 1058h7v7h-7zM1155 1058h7v7h-7zM1182 1058h7v7h-7zM1203 1058h6v7h-6zM1216 1058h7v7h-7zM1318 1058h6v7h-6zM1087 1065h34v7h-34zM1155 1065h7v7h-7zM1169 1065h6v7h-6zM1203 1065h6v7h-6zM1216 1065h14v7h-14zM1081 1072h13v7h-13zM1115 1072h6v7h-6zM1148 1072h7v7h-7zM1162 1072h13v7h-13zM1189 1072h20v7h-20zM1216 1072h14v7h-14zM1074 1079h7v7h-7zM1087 1079h14v7h-14zM1108 1079h13v7h-13zM1155 1079h14v7h-14zM1189 1079h7v7h-7zM1203 1079h6v7h-6zM1216 1079h14v7h-14zM1101 1086h20v6h-20zM1155 1086h7v6h-7zM1189 1086h7v6h-7zM1094 1092h7v7h-7zM1108 1092h13v7h-13zM1182 1092h7v7h-7zM1067 1099h7v7h-7zM1081 1099h34v7h-34zM1121 1099h14v7h-14zM1182 1099h7v7h-7zM1270 1099h7v7h-7zM1006 1106h14v7h-14zM1040 1106h7v7h-7zM1060 1106h7v7h-7zM1094 1106h14v7h-14zM1162 1106h13v7h-13zM1182 1106h21v7h-21zM1216 1106h7v7h-7zM1067 1113h7v6h-7zM1094 1113h7v6h-7zM1128 1113h7v6h-7zM1155 1113h7v6h-7zM1175 1113h7v6h-7zM1189 1113h7v6h-7zM1209 1113h7v6h-7zM1223 1113h7v6h-7zM1074 1119h7v7h-7zM1121 1119h14v7h-14zM1155 1119h14v7h-14zM1189 1119h7v7h-7zM1216 1119h14v7h-14zM1101 1126h7v7h-7zM1169 1126h27v7h-27zM1236 1126h7v7h-7zM1081 1133h13v7h-13zM1108 1133h13v7h-13zM1128 1133h14v7h-14zM1155 1133h7v7h-7zM1169 1133h20v7h-20zM1196 1133h7v7h-7zM1081 1140h13v6h-13zM1101 1140h7v6h-7zM1135 1140h7v6h-7zM1175 1140h7v6h-7zM1196 1140h7v6h-7zM1087 1146h7v7h-7zM1162 1146h7v7h-7zM1203 1146h6v7h-6zM1162 1153h13v7h-13zM1060 1200h7v7h-7zM1047 1207h7v7h-7zM1047 1214h7v7h-7zM1054 1241h6v7h-6zM1060 1248h7v6h-7zM1060 1254h14v7h-14z"/>
<path shape-rendering="crispEdges" fill="#e00000" d="M999 768h14v7h-14zM986 775h7v6h-7zM999 775h14v6h-14zM1027 775h6v6h-6zM1040 775h7v6h-7zM1020 781h7v7h-7zM1033 781h7v7h-7zM1020 788h13v7h-13zM1033 795h7v7h-7zM1060 802h7v6h-7zM1067 808h7v7h-7zM932 829h7v6h-7zM999 829h7v6h-7zM1033 829h7v6h-7zM1006 835h7v7h-7zM966 842h6v7h-6zM1060 842h7v7h-7zM1067 849h7v7h-7zM1033 856h7v6h-7zM1155 883h7v6h-7zM1115 903h6v7h-6zM1148 937h7v7h-7zM1142 944h13v6h-13zM1419 944h7v6h-7zM1142 950h13v7h-13zM1142 957h13v7h-13zM1142 964h6v7h-6zM1196 977h7v7h-7zM1331 977h14v7h-14zM1209 984h14v7h-14zM1338 984h7v7h-7zM1196 991h7v7h-7zM1331 991h7v7h-7zM1324 998h7v6h-7zM1324 1004h7v7h-7zM1324 1011h7v7h-7zM1162 1018h7v7h-7zM1189 1018h14v7h-14zM1162 1025h7v6h-7zM1196 1025h7v6h-7zM1155 1031h7v7h-7zM1169 1031h34v7h-34zM1338 1031h7v7h-7zM972 1038h7v7h-7zM972 1045h7v7h-7zM972 1052h7v6h-7zM1209 1058h7v7h-7zM1148 1065h7v7h-7zM1162 1065h7v7h-7zM1209 1065h7v7h-7zM1101 1072h14v7h-14zM1155 1072h7v7h-7zM1101 1079h7v7h-7zM1094 1086h7v6h-7zM1142 1086h13v6h-13zM1128 1092h41v7h-41zM1115 1099h6v7h-6zM1135 1099h20v7h-20zM1087 1106h7v7h-7zM1108 1106h47v7h-47zM1081 1113h13v6h-13zM1101 1113h27v6h-27zM1135 1113h20v6h-20zM1169 1113h6v6h-6zM1182 1113h7v6h-7zM1081 1119h40v7h-40zM1135 1119h20v7h-20zM1175 1119h7v7h-7zM1230 1119h6v7h-6zM1081 1126h20v7h-20zM1108 1126h27v7h-27zM1142 1126h13v7h-13zM1189 1133h7v7h-7zM1169 1146h6v7h-6zM993 1187h6v7h-6zM1060 1214h7v7h-7z"/>
<rect x="897.90" y="714.00" width="595.70" height="586.50" fill="none" stroke="#111" stroke-width="2.1"/>
<path d="M908.70 714.00v3.6M908.70 1300.50v-3.6M920.00 714.00v3.6M920.00 1300.50v-3.6M931.30 714.00v3.6M931.30 1300.50v-3.6M942.60 714.00v3.6M942.60 1300.50v-3.6M953.90 714.00v3.6M953.90 1300.50v-3.6M965.20 714.00v5.5M965.20 1300.50v-5.5M976.50 714.00v3.6M976.50 1300.50v-3.6M987.80 714.00v3.6M987.80 1300.50v-3.6M999.10 714.00v3.6M999.10 1300.50v-3.6M1010.40 714.00v3.6M1010.40 1300.50v-3.6M1021.70 714.00v3.6M1021.70 1300.50v-3.6M1033.00 714.00v5.5M1033.00 1300.50v-5.5M1044.30 714.00v3.6M1044.30 1300.50v-3.6M1055.60 714.00v3.6M1055.60 1300.50v-3.6M1066.90 714.00v3.6M1066.90 1300.50v-3.6M1078.20 714.00v3.6M1078.20 1300.50v-3.6M1089.50 714.00v3.6M1089.50 1300.50v-3.6M1100.80 714.00v5.5M1100.80 1300.50v-5.5M1112.10 714.00v3.6M1112.10 1300.50v-3.6M1123.40 714.00v3.6M1123.40 1300.50v-3.6M1134.70 714.00v3.6M1134.70 1300.50v-3.6M1146.00 714.00v3.6M1146.00 1300.50v-3.6M1157.30 714.00v3.6M1157.30 1300.50v-3.6M1168.60 714.00v5.5M1168.60 1300.50v-5.5M1179.90 714.00v3.6M1179.90 1300.50v-3.6M1191.20 714.00v3.6M1191.20 1300.50v-3.6M1202.50 714.00v3.6M1202.50 1300.50v-3.6M1213.80 714.00v3.6M1213.80 1300.50v-3.6M1225.10 714.00v3.6M1225.10 1300.50v-3.6M1236.40 714.00v5.5M1236.40 1300.50v-5.5M1247.70 714.00v3.6M1247.70 1300.50v-3.6M1259.00 714.00v3.6M1259.00 1300.50v-3.6M1270.30 714.00v3.6M1270.30 1300.50v-3.6M1281.60 714.00v3.6M1281.60 1300.50v-3.6M1292.90 714.00v3.6M1292.90 1300.50v-3.6M1304.20 714.00v5.5M1304.20 1300.50v-5.5M1315.50 714.00v3.6M1315.50 1300.50v-3.6M1326.80 714.00v3.6M1326.80 1300.50v-3.6M1338.10 714.00v3.6M1338.10 1300.50v-3.6M1349.40 714.00v3.6M1349.40 1300.50v-3.6M1360.70 714.00v3.6M1360.70 1300.50v-3.6M1372.00 714.00v5.5M1372.00 1300.50v-5.5M1383.30 714.00v3.6M1383.30 1300.50v-3.6M1394.60 714.00v3.6M1394.60 1300.50v-3.6M1405.90 714.00v3.6M1405.90 1300.50v-3.6M1417.20 714.00v3.6M1417.20 1300.50v-3.6M1428.50 714.00v3.6M1428.50 1300.50v-3.6M1439.80 714.00v5.5M1439.80 1300.50v-5.5M1451.10 714.00v3.6M1451.10 1300.50v-3.6M1462.40 714.00v3.6M1462.40 1300.50v-3.6M1473.70 714.00v3.6M1473.70 1300.50v-3.6M1485.00 714.00v3.6M1485.00 1300.50v-3.6M897.90 716.40h3.6M1493.60 716.40h-3.6M897.90 727.70h3.6M1493.60 727.70h-3.6M897.90 739.00h3.6M1493.60 739.00h-3.6M897.90 750.30h3.6M1493.60 750.30h-3.6M897.90 761.60h5.5M1493.60 761.60h-5.5M897.90 772.90h3.6M1493.60 772.90h-3.6M897.90 784.20h3.6M1493.60 784.20h-3.6M897.90 795.50h3.6M1493.60 795.50h-3.6M897.90 806.80h3.6M1493.60 806.80h-3.6M897.90 818.10h3.6M1493.60 818.10h-3.6M897.90 829.40h5.5M1493.60 829.40h-5.5M897.90 840.70h3.6M1493.60 840.70h-3.6M897.90 852.00h3.6M1493.60 852.00h-3.6M897.90 863.30h3.6M1493.60 863.30h-3.6M897.90 874.60h3.6M1493.60 874.60h-3.6M897.90 885.90h3.6M1493.60 885.90h-3.6M897.90 897.20h5.5M1493.60 897.20h-5.5M897.90 908.50h3.6M1493.60 908.50h-3.6M897.90 919.80h3.6M1493.60 919.80h-3.6M897.90 931.10h3.6M1493.60 931.10h-3.6M897.90 942.40h3.6M1493.60 942.40h-3.6M897.90 953.70h3.6M1493.60 953.70h-3.6M897.90 965.00h5.5M1493.60 965.00h-5.5M897.90 976.30h3.6M1493.60 976.30h-3.6M897.90 987.60h3.6M1493.60 987.60h-3.6M897.90 998.90h3.6M1493.60 998.90h-3.6M897.90 1010.20h3.6M1493.60 1010.20h-3.6M897.90 1021.50h3.6M1493.60 1021.50h-3.6M897.90 1032.80h5.5M1493.60 1032.80h-5.5M897.90 1044.10h3.6M1493.60 1044.10h-3.6M897.90 1055.40h3.6M1493.60 1055.40h-3.6M897.90 1066.70h3.6M1493.60 1066.70h-3.6M897.90 1078.00h3.6M1493.60 1078.00h-3.6M897.90 1089.30h3.6M1493.60 1089.30h-3.6M897.90 1100.60h5.5M1493.60 1100.60h-5.5M897.90 1111.90h3.6M1493.60 1111.90h-3.6M897.90 1123.20h3.6M1493.60 1123.20h-3.6M897.90 1134.50h3.6M1493.60 1134.50h-3.6M897.90 1145.80h3.6M1493.60 1145.80h-3.6M897.90 1157.10h3.6M1493.60 1157.10h-3.6M897.90 1168.40h5.5M1493.60 1168.40h-5.5M897.90 1179.70h3.6M1493.60 1179.70h-3.6M897.90 1191.00h3.6M1493.60 1191.00h-3.6M897.90 1202.30h3.6M1493.60 1202.30h-3.6M897.90 1213.60h3.6M1493.60 1213.60h-3.6M897.90 1224.90h3.6M1493.60 1224.90h-3.6M897.90 1236.20h5.5M1493.60 1236.20h-5.5M897.90 1247.50h3.6M1493.60 1247.50h-3.6M897.90 1258.80h3.6M1493.60 1258.80h-3.6M897.90 1270.10h3.6M1493.60 1270.10h-3.6M897.90 1281.40h3.6M1493.60 1281.40h-3.6M897.90 1292.70h3.6M1493.60 1292.70h-3.6" stroke="#111" stroke-width="1.6" fill="none"/>
<rect x="620.4" y="1412.5" width="88.6" height="16.6" fill="#00f2f2"/>
<rect x="709.0" y="1412.5" width="72.7" height="16.6" fill="#3d8eea"/>
<rect x="781.7" y="1412.5" width="74.2" height="16.6" fill="#25d47f"/>
<rect x="855.9" y="1412.5" width="72.7" height="16.6" fill="#f5e11c"/>
<rect x="928.6" y="1412.5" width="88.7" height="16.6" fill="#e00000"/>
<rect x="620.4" y="1412.5" width="396.9" height="16.6" fill="none" stroke="#222" stroke-width="1.2"/>
<path d="M636.3 1412.5v4M636.3 1429.1v-4" stroke="#222" stroke-width="1.2"/>
<path d="M717.8 1412.5v4M717.8 1429.1v-4" stroke="#222" stroke-width="1.2"/>
<path d="M799.2 1412.5v4M799.2 1429.1v-4" stroke="#222" stroke-width="1.2"/>
<path d="M880.6 1412.5v4M880.6 1429.1v-4" stroke="#222" stroke-width="1.2"/>
<path d="M962.0 1412.5v4M962.0 1429.1v-4" stroke="#222" stroke-width="1.2"/>
<g font-family="Liberation Serif, serif" fill="#111"><text x="420.3" y="68.9" font-size="27.4" >Estimated map (Cokriging)</text>
<text x="1259.0" y="64.8" font-size="27.7" >Realization 204</text>
<text x="518.8" y="761.4" font-size="27.7" >Realization 387</text>
<text x="1281.6" y="763.8" font-size="27.7" >Realization 706</text>
<text x="11.9" y="146.1" font-size="31.5" >4,335,400</text>
<text x="9.6" y="280.9" font-size="31.5" >4,334,200</text>
<text x="10.8" y="417.2" font-size="31.5" >4,335,000</text>
<text x="12.2" y="555.8" font-size="31.5" >4,334,800</text>
<text x="769.2" y="140.2" font-size="31.5" >4,335,400</text>
<text x="767.0" y="275.4" font-size="31.5" >4,334,200</text>
<text x="768.3" y="412.1" font-size="31.5" >4,335,000</text>
<text x="769.3" y="550.3" font-size="31.5" >4,334,800</text>
<text x="14.3" y="834.6" font-size="31.5" >4,335,400</text>
<text x="11.7" y="970.0" font-size="31.5" >4,334,200</text>
<text x="13.3" y="1108.5" font-size="31.5" >4,335,000</text>
<text x="14.9" y="1243.8" font-size="31.5" >4,334,800</text>
<text x="761.7" y="841.0" font-size="31.5" >4,335,400</text>
<text x="760.1" y="976.3" font-size="31.5" >4,334,200</text>
<text x="760.1" y="1112.3" font-size="31.5" >4,335,000</text>
<text x="761.7" y="1250.2" font-size="31.5" >4,334,800</text>
<text x="137.9" y="640.5" font-size="31.5" >1,699,800</text>
<text x="282.9" y="641.4" font-size="31.5" >1,700,000</text>
<text x="426.4" y="640.5" font-size="31.5" >1,700,200</text>
<text x="573.4" y="645.5" font-size="31.5" >1,700,400</text>
<text x="904.5" y="641.2" font-size="31.5" >1,699,800</text>
<text x="1049.4" y="641.2" font-size="31.5" >1,700,000</text>
<text x="1194.8" y="641.2" font-size="31.5" >1,700,200</text>
<text x="1341.0" y="645.3" font-size="31.5" >1,700,400</text>
<text x="152.3" y="1334.0" font-size="31.5" >1,699,800</text>
<text x="297.0" y="1334.0" font-size="31.5" >1,700,000</text>
<text x="442.0" y="1334.0" font-size="31.5" >1,700,200</text>
<text x="588.8" y="1338.9" font-size="31.5" >1,700,400</text>
<text x="877.3" y="1332.4" font-size="31.5" >1,699,800</text>
<text x="1021.8" y="1332.4" font-size="31.5" >1,700,000</text>
<text x="1167.6" y="1332.4" font-size="31.5" >1,700,200</text>
<text x="1313.4" y="1338.3" font-size="31.5" >1,700,400</text>
<text x="392.4" y="683.1" font-size="27.5" >X (m)</text>
<text x="1160.5" y="684.4" font-size="27.5" >X (m)</text>
<text x="407.9" y="1377.0" font-size="27.5" >X (m)</text>
<text x="1133.8" y="1375.7" font-size="27.5" >X (m)</text>
<text transform="translate(87.0 370.4) rotate(-90)" font-size="27.8">Y (m)</text>
<text transform="translate(844.5 365.4) rotate(-90)" font-size="27.8">Y (m)</text>
<text transform="translate(88.5 1059.0) rotate(-90)" font-size="27.8">Y (m)</text>
<text transform="translate(835.3 1065.5) rotate(-90)" font-size="27.8">Y (m)</text>
<text x="627.5" y="1460.0" font-size="31.5" >11</text>
<text x="709.0" y="1460.0" font-size="31.5" >13</text>
<text x="790.4" y="1462.0" font-size="31.5" >15</text>
<text x="870.4" y="1462.0" font-size="31.5" >17</text>
<text x="953.2" y="1464.0" font-size="31.5" >19</text>
<text x="740.5" y="1393.6" font-size="28.7">Al<tspan font-size="20" dy="8">2</tspan><tspan dy="-8">O</tspan><tspan font-size="20" dy="8">3</tspan><tspan dy="-8">(%)</tspan></text></g>
</svg></body></html>
